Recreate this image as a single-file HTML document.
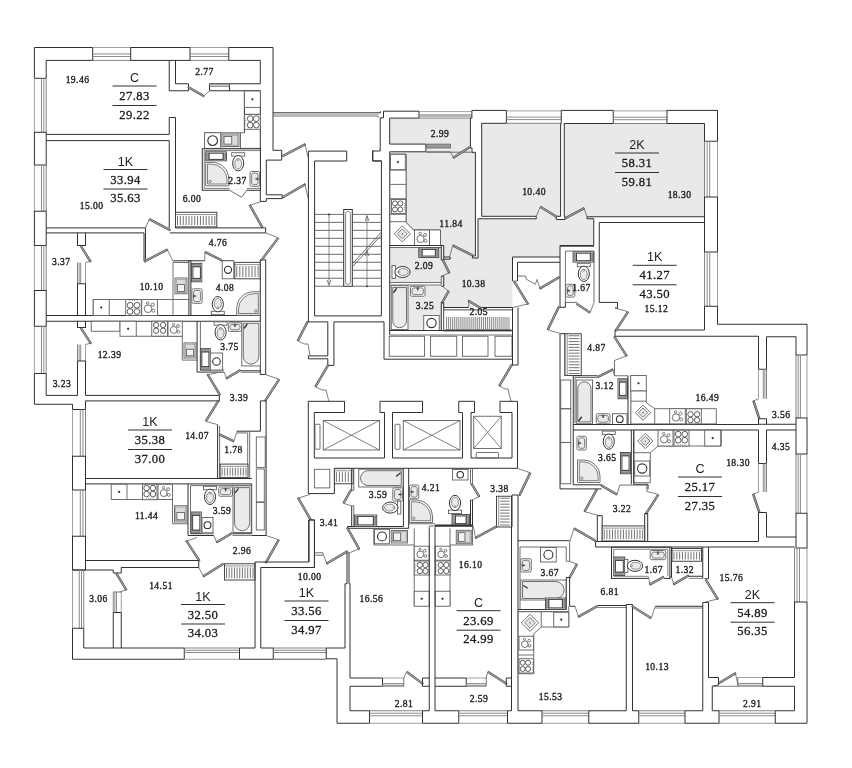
<!DOCTYPE html>
<html><head><meta charset="utf-8"><title>Floor plan</title>
<style>
html,body{margin:0;padding:0;background:#fff;}
svg{display:block;filter:grayscale(1)}
.ts{font-family:"Liberation Serif",serif;fill:#1c1c1c;stroke:#1c1c1c;stroke-width:0.34px;letter-spacing:0.42px}
.tb{font-family:"Liberation Serif",serif;fill:#1c1c1c;stroke:#1c1c1c;stroke-width:0.3px;letter-spacing:0.4px}
.tn{font-family:"Liberation Sans",sans-serif;fill:#222}
</style></head><body>
<svg width="852" height="768" viewBox="0 0 852 768" shape-rendering="geometricPrecision">
<rect x="0" y="0" width="852" height="768" fill="#fff"/>
<polygon points="389.7,118.5 470.6,118.5 470.6,152.7 426,152.7 426,144.1 389.7,144.1" fill="#e8e9eb" stroke="none"/>
<polygon points="389.7,152.2 475.4,152.2 475.4,258 441.5,258 441.5,246 389.7,246" fill="#e8e9eb" stroke="none"/>
<polygon points="481.7,123.5 560.7,123.5 560.7,218 481.7,218" fill="#e8e9eb" stroke="none"/>
<polygon points="564.2,123.5 704.5,123.5 704.5,216.8 564.2,216.8" fill="#e8e9eb" stroke="none"/>
<polygon points="478,217 593.5,217 593.5,245.5 560,245.5 560,257 512.5,257 512.5,307.5 443.5,307.5 443.5,258 478,258" fill="#e8e9eb" stroke="none"/>
<polygon points="390,247.5 441.5,247.5 441.5,282.5 390,282.5" fill="#e8e9eb" stroke="none"/>
<polygon points="390,285 441.5,285 441.5,330.5 390,330.5" fill="#e8e9eb" stroke="none"/>
<polygon points="441.5,258 450,258 450,307.5 441.5,307.5" fill="#e8e9eb" stroke="none"/>
<polygon points="34.4,47.5 92.7,47.5 92.7,60.4 46.2,60.4 46.2,78.3 34.4,78.3" fill="none" stroke="#303030" stroke-width="1"/>
<polyline points="92.7,47.5 130.7,47.5" fill="none" stroke="#888" stroke-width="0.8"/>
<polyline points="92.7,60.4 130.7,60.4" fill="none" stroke="#666" stroke-width="0.8"/>
<polyline points="92.7,56.53 130.7,56.53" fill="none" stroke="#8a8a8a" stroke-width="1"/>
<polyline points="92.7,53.95 130.7,53.95" fill="none" stroke="#8a8a8a" stroke-width="1"/>
<rect x="130.7" y="47.5" width="59.30000000000001" height="12.899999999999999" fill="none" stroke="#303030" stroke-width="1"/>
<polyline points="190,47.5 228.75,47.5" fill="none" stroke="#888" stroke-width="0.8"/>
<polyline points="190,60.4 228.75,60.4" fill="none" stroke="#666" stroke-width="0.8"/>
<polyline points="190,56.53 228.75,56.53" fill="none" stroke="#8a8a8a" stroke-width="1"/>
<polyline points="190,53.95 228.75,53.95" fill="none" stroke="#8a8a8a" stroke-width="1"/>
<polygon points="228.75,47.5 273,47.5 273,150.3 281.7,150.3 281.7,160.1 266.3,160.1 266.3,194.8 282.2,194.8 282.2,198.6 266.3,198.6 266.3,201.4 260.3,201.4 260.3,90.75 229.5,90.75 229.5,83.75 260.3,83.75 260.3,60.4 228.75,60.4" fill="none" stroke="#303030" stroke-width="1"/>
<polyline points="34.4,78.3 34.4,132.3" fill="none" stroke="#888" stroke-width="0.8"/>
<polyline points="46.2,78.3 46.2,132.3" fill="none" stroke="#666" stroke-width="0.8"/>
<polyline points="43.84,78.3 43.84,132.3" fill="none" stroke="#8a8a8a" stroke-width="1"/>
<polyline points="41.480000000000004,78.3 41.480000000000004,132.3" fill="none" stroke="#8a8a8a" stroke-width="1"/>
<rect x="34.4" y="132.3" width="11.800000000000004" height="32.69999999999999" fill="none" stroke="#303030" stroke-width="1"/>
<polyline points="34.4,165 34.4,211.25" fill="none" stroke="#888" stroke-width="0.8"/>
<polyline points="46.2,165 46.2,211.25" fill="none" stroke="#666" stroke-width="0.8"/>
<polyline points="43.84,165 43.84,211.25" fill="none" stroke="#8a8a8a" stroke-width="1"/>
<polyline points="41.480000000000004,165 41.480000000000004,211.25" fill="none" stroke="#8a8a8a" stroke-width="1"/>
<rect x="34.4" y="211.25" width="11.800000000000004" height="34.25" fill="none" stroke="#303030" stroke-width="1"/>
<polyline points="34.4,245.5 34.4,290.5" fill="none" stroke="#888" stroke-width="0.8"/>
<polyline points="46.2,245.5 46.2,290.5" fill="none" stroke="#666" stroke-width="0.8"/>
<polyline points="43.84,245.5 43.84,290.5" fill="none" stroke="#8a8a8a" stroke-width="1"/>
<polyline points="41.480000000000004,245.5 41.480000000000004,290.5" fill="none" stroke="#8a8a8a" stroke-width="1"/>
<rect x="34.4" y="290.5" width="11.800000000000004" height="35.75" fill="none" stroke="#303030" stroke-width="1"/>
<polyline points="34.4,326.25 34.4,373.5" fill="none" stroke="#888" stroke-width="0.8"/>
<polyline points="46.2,326.25 46.2,373.5" fill="none" stroke="#666" stroke-width="0.8"/>
<polyline points="43.84,326.25 43.84,373.5" fill="none" stroke="#8a8a8a" stroke-width="1"/>
<polyline points="41.480000000000004,326.25 41.480000000000004,373.5" fill="none" stroke="#8a8a8a" stroke-width="1"/>
<polyline points="46.2,373.5 34.4,373.5 34.4,404.25 72.5,404.25" fill="none" stroke="#303030" stroke-width="1"/>
<polyline points="169.25,60.4 169.25,90.75 188.5,90.75 188.5,83.75 175.5,83.75 175.5,60.4" fill="none" stroke="#303030" stroke-width="1"/>
<polygon points="188.5,86.5 204.5,95.5 203.72,96.89 187.72,87.89" fill="#b5b5b5" stroke="#3a3a3a" stroke-width="0.75"/>
<polyline points="209.5,83.75 209.5,90.75" fill="none" stroke="#303030" stroke-width="1"/>
<polyline points="209.5,83.75 229.5,83.75" fill="none" stroke="#303030" stroke-width="1"/>
<polyline points="209.5,90.75 229.5,90.75" fill="none" stroke="#303030" stroke-width="1"/>
<polyline points="209.5,84.9 229.5,84.9" fill="none" stroke="#8a8a8a" stroke-width="1"/>
<polyline points="209.5,86.4 229.5,86.4" fill="none" stroke="#8a8a8a" stroke-width="1"/>
<polyline points="204.5,95.5 209.5,90.75" fill="none" stroke="#606060" stroke-width="0.8"/>
<polyline points="46.2,134.4 169.25,134.4 169.25,117.5 175.5,117.5 175.5,228" fill="none" stroke="#303030" stroke-width="1"/>
<polyline points="46.2,140.6 169.25,140.6 169.25,228" fill="none" stroke="#303030" stroke-width="1"/>
<text x="77.5" y="83.3" font-size="9.6" text-anchor="middle" class="ts">19.46</text>
<text x="134.5" y="82" font-size="12.5" text-anchor="middle" class="tn">C</text>
<polyline points="112.5,86 156.5,86" fill="none" stroke="#303030" stroke-width="1"/>
<text x="134.5" y="100" font-size="12.7" text-anchor="middle" class="tb">27.83</text>
<polyline points="112.5,105.5 156.5,105.5" fill="none" stroke="#303030" stroke-width="1"/>
<text x="134.5" y="118.7" font-size="12.7" text-anchor="middle" class="tb">29.22</text>
<text x="204.5" y="75.3" font-size="9.6" text-anchor="middle" class="ts">2.77</text>
<text x="125.5" y="165.5" font-size="12.5" text-anchor="middle" class="tn">1K</text>
<polyline points="103.5,169.5 147.5,169.5" fill="none" stroke="#303030" stroke-width="1"/>
<text x="125.5" y="183.5" font-size="12.7" text-anchor="middle" class="tb">33.94</text>
<polyline points="103.5,189.0 147.5,189.0" fill="none" stroke="#303030" stroke-width="1"/>
<text x="125.5" y="202.2" font-size="12.7" text-anchor="middle" class="tb">35.63</text>
<text x="91.7" y="209.3" font-size="9.6" text-anchor="middle" class="ts">15.00</text>
<text x="192" y="202" font-size="9.6" text-anchor="middle" class="ts">6.00</text>
<polyline points="244.4,91 244.4,132.75" fill="none" stroke="#303030" stroke-width="1"/>
<rect x="244.4" y="91" width="15.900000000000006" height="16.400000000000006" fill="#fff" stroke="#606060" stroke-width="0.9"/>
<circle cx="252.35000000000002" cy="99.2" r="1.05" fill="#303030" stroke="#606060" stroke-width="0.2"/>
<polyline points="244.4,114.3 260.3,114.3" fill="none" stroke="#606060" stroke-width="0.9"/>
<rect x="244.4" y="114.5" width="15.900000000000006" height="14.800000000000011" fill="#fff" stroke="#606060" stroke-width="0.9"/>
<circle cx="250.175" cy="118.65" r="2.8749999999999942" fill="none" stroke="#4a4a4a" stroke-width="0.9"/>
<circle cx="250.175" cy="125.15" r="2.8749999999999942" fill="none" stroke="#4a4a4a" stroke-width="0.9"/>
<circle cx="256.325" cy="118.65" r="2.8749999999999942" fill="none" stroke="#4a4a4a" stroke-width="0.9"/>
<circle cx="256.325" cy="125.15" r="2.8749999999999942" fill="none" stroke="#4a4a4a" stroke-width="0.9"/>
<circle cx="245.6" cy="118.348" r="0.38" fill="#303030" stroke="#606060" stroke-width="0.1"/>
<circle cx="245.6" cy="120.71600000000001" r="0.38" fill="#303030" stroke="#606060" stroke-width="0.1"/>
<circle cx="245.6" cy="123.084" r="0.38" fill="#303030" stroke="#606060" stroke-width="0.1"/>
<circle cx="245.6" cy="125.45200000000001" r="0.38" fill="#303030" stroke="#606060" stroke-width="0.1"/>
<polyline points="244.4,132.75 204.6,132.75 204.6,148.4 260.3,148.4" fill="none" stroke="#606060" stroke-width="0.9"/>
<rect x="204.6" y="132.75" width="16.099999999999994" height="15.650000000000006" fill="#fff" stroke="#606060" stroke-width="0.9"/>
<circle cx="212.64999999999998" cy="140.575" r="4.8515000000000015" fill="none" stroke="#303030" stroke-width="1.1"/>
<rect x="221.8" y="134" width="17.19999999999999" height="12.5" fill="#fff" stroke="#606060" stroke-width="0.9"/>
<rect x="223.0" y="135.2" width="14.800000000000011" height="10.100000000000023" fill="#dcdcdc" stroke="#888" stroke-width="0.7"/>
<rect x="224.0" y="136.4" width="7.7760000000000105" height="7.699999999999989" fill="#f4f4f4" stroke="#555" stroke-width="0.8"/>
<polyline points="240.5,132.75 240.5,148.4" fill="none" stroke="#606060" stroke-width="0.9"/>
<rect x="202.25" y="148.8" width="58.14999999999998" height="41.44999999999999" fill="#fff" stroke="#303030" stroke-width="1"/>
<polyline points="204.2,150.6 260.4,150.6" fill="none" stroke="#606060" stroke-width="0.8"/>
<polyline points="204.2,150.6 204.2,188.4 229.6,188.4" fill="none" stroke="#606060" stroke-width="0.8"/>
<polyline points="246.8,188.4 260.4,188.4" fill="none" stroke="#606060" stroke-width="0.8"/>
<rect x="205.7" y="151.8" width="20.80000000000001" height="9.0" fill="#fff" stroke="#444" stroke-width="0.9"/>
<rect x="206.5" y="153.0" width="2.5999999999999943" height="6.600000000000023" fill="#9c9c9c" stroke="#555" stroke-width="0.5"/>
<rect x="223.1" y="153.0" width="2.5999999999999943" height="6.600000000000023" fill="#9c9c9c" stroke="#555" stroke-width="0.5"/>
<rect x="209.1" y="153.20000000000002" width="14.0" height="6.199999999999989" fill="#fff" stroke="#3c3c3c" stroke-width="1.0"/>
<path d="M205.7,162.3 L212.168,162.3 A16.632000000000016,16.632000000000016 0 0 1 228.8,178.93200000000002 L228.8,185.8 L205.7,185.8 Z" fill="#fff" stroke="#606060" stroke-width="0.9"/>
<path d="M207.5,164.10000000000002 L211.44799999999998,164.10000000000002 A15.552000000000016,15.552000000000016 0 0 1 227.0,179.65200000000004 L227.0,184.0 L207.5,184.0 Z" fill="#e9eaeb" stroke="#606060" stroke-width="0.8"/>
<circle cx="210.0" cy="181.5" r="1.2" fill="#fff" stroke="#606060" stroke-width="0.8"/>
<rect x="231.72" y="152.72" width="12.95999999999998" height="3.4000000000000057" fill="#fff" stroke="#606060" stroke-width="0.9"/>
<ellipse cx="238.2" cy="163.2" rx="5.52" ry="7.68" fill="#fff" stroke="#303030" stroke-width="1.0"/>
<ellipse cx="238.2" cy="163.79999999999998" rx="3.4223999999999997" ry="5.2224" fill="#e9eaeb" stroke="#606060" stroke-width="0.7"/>
<circle cx="238.2" cy="159.744" r="0.9" fill="#fff" stroke="#606060" stroke-width="0.6"/>
<rect x="250" y="171.5" width="9.600000000000023" height="14.800000000000011" rx="1.5" fill="#fff" stroke="#606060" stroke-width="0.9"/>
<rect x="251.6" y="173.1" width="6.400000000000006" height="11.600000000000023" rx="2" fill="#e9eaeb" stroke="#606060" stroke-width="0.8"/>
<polyline points="258.6,178.9 255.40000000000003,178.9" fill="none" stroke="#303030" stroke-width="1.2"/>
<polyline points="257.40000000000003,177.4 257.40000000000003,180.4" fill="none" stroke="#606060" stroke-width="0.9"/>
<polyline points="229.6,190.25 246.8,190.25" fill="none" stroke="#fff" stroke-width="2"/>
<polyline points="229.6,190.25 241.5,197.2 246.8,190.25" fill="none" stroke="#606060" stroke-width="0.9"/>
<text x="237.5" y="184.3" font-size="9.6" text-anchor="middle" class="ts">2.37</text>
<polyline points="175.5,227.9 265.7,227.9 265.7,232.9 169.9,232.9" fill="none" stroke="#303030" stroke-width="1"/>
<rect x="175.5" y="212.3" width="41.30000000000001" height="14.599999999999994" fill="#fff" stroke="#444" stroke-width="1"/>
<polyline points="175.5,214.5 216.8,214.5" fill="none" stroke="#666" stroke-width="0.7"/>
<polyline points="177.50,215.9 177.50,225.1" fill="none" stroke="#505050" stroke-width="0.8"/>
<polyline points="180.37,215.9 180.37,225.1" fill="none" stroke="#505050" stroke-width="0.8"/>
<polyline points="183.24,215.9 183.24,225.1" fill="none" stroke="#505050" stroke-width="0.8"/>
<polyline points="186.11,215.9 186.11,225.1" fill="none" stroke="#505050" stroke-width="0.8"/>
<polyline points="188.98,215.9 188.98,225.1" fill="none" stroke="#505050" stroke-width="0.8"/>
<polyline points="191.85,215.9 191.85,225.1" fill="none" stroke="#505050" stroke-width="0.8"/>
<polyline points="194.72,215.9 194.72,225.1" fill="none" stroke="#505050" stroke-width="0.8"/>
<polyline points="197.58,215.9 197.58,225.1" fill="none" stroke="#505050" stroke-width="0.8"/>
<polyline points="200.45,215.9 200.45,225.1" fill="none" stroke="#505050" stroke-width="0.8"/>
<polyline points="203.32,215.9 203.32,225.1" fill="none" stroke="#505050" stroke-width="0.8"/>
<polyline points="206.19,215.9 206.19,225.1" fill="none" stroke="#505050" stroke-width="0.8"/>
<polyline points="209.06,215.9 209.06,225.1" fill="none" stroke="#505050" stroke-width="0.8"/>
<polyline points="211.93,215.9 211.93,225.1" fill="none" stroke="#505050" stroke-width="0.8"/>
<polyline points="214.80,215.9 214.80,225.1" fill="none" stroke="#505050" stroke-width="0.8"/>
<polygon points="261.7,227.9 249.1,205.6 250.49,204.81 263.09,227.11" fill="#b5b5b5" stroke="#3a3a3a" stroke-width="0.75"/>
<polyline points="249.1,205.6 261.7,201.4" fill="none" stroke="#606060" stroke-width="0.8"/>
<polyline points="46.2,227.9 145.5,227.9 145.5,232.9" fill="none" stroke="#303030" stroke-width="1"/>
<polyline points="46.2,232.9 77.5,232.9" fill="none" stroke="#303030" stroke-width="1"/>
<polyline points="85.5,232.9 144,232.9 144,260.8" fill="none" stroke="#303030" stroke-width="1"/>
<polyline points="145.5,232.9 145.5,259.5" fill="none" stroke="#303030" stroke-width="1"/>
<polygon points="169.9,230.9 149,219.9 149.75,218.48 170.65,229.48" fill="#b5b5b5" stroke="#3a3a3a" stroke-width="0.75"/>
<polyline points="149,219.9 145.5,227.9" fill="none" stroke="#606060" stroke-width="0.8"/>
<polygon points="144,260.8 166.9,248.9 167.64,250.32 144.74,262.22" fill="#b5b5b5" stroke="#3a3a3a" stroke-width="0.75"/>
<polyline points="166.9,248.9 172.9,260.8" fill="none" stroke="#606060" stroke-width="0.8"/>
<polyline points="172.9,260.8 204.8,260.8" fill="none" stroke="#303030" stroke-width="1"/>
<polyline points="220.8,260.8 233.75,260.8" fill="none" stroke="#303030" stroke-width="1"/>
<polygon points="220.8,260.8 204.8,252.8 205.52,251.37 221.52,259.37" fill="#b5b5b5" stroke="#3a3a3a" stroke-width="0.75"/>
<polyline points="204.8,252.8 204.8,260.8" fill="none" stroke="#606060" stroke-width="0.8"/>
<rect x="188.9" y="260.8" width="2.0" height="54.69999999999999" fill="#fff" stroke="#303030" stroke-width="1"/>
<polyline points="260.3,259.8 265.7,259.8 265.7,374.5 260.3,374.5 260.3,259.8" fill="none" stroke="#303030" stroke-width="1"/>
<polygon points="260.7,259.8 277.6,237.5 278.88,238.47 261.98,260.77" fill="#b5b5b5" stroke="#3a3a3a" stroke-width="0.75"/>
<polyline points="277.6,237.5 265.7,232.9" fill="none" stroke="#606060" stroke-width="0.8"/>
<rect x="77.5" y="232.9" width="8.0" height="12.599999999999994" fill="none" stroke="#303030" stroke-width="1"/>
<polygon points="81.5,245.5 91.25,261.25 89.89,262.09 80.14,246.34" fill="#b5b5b5" stroke="#3a3a3a" stroke-width="0.75"/>
<polyline points="91.25,261.25 85.5,262.5" fill="none" stroke="#606060" stroke-width="0.8"/>
<polyline points="85.5,262.5 85.5,283.75" fill="none" stroke="#888" stroke-width="0.8"/>
<polyline points="77.5,262.5 77.5,283.75" fill="none" stroke="#666" stroke-width="0.8"/>
<polyline points="79.1,262.5 79.1,283.75" fill="none" stroke="#8a8a8a" stroke-width="1"/>
<polyline points="80.7,262.5 80.7,283.75" fill="none" stroke="#8a8a8a" stroke-width="1"/>
<rect x="77.5" y="283.75" width="8.0" height="31.75" fill="none" stroke="#303030" stroke-width="1"/>
<polyline points="46.2,315.5 260.3,315.5" fill="none" stroke="#303030" stroke-width="1"/>
<polyline points="46.2,321.25 77.5,321.25" fill="none" stroke="#303030" stroke-width="1"/>
<polyline points="85.5,321.25 260.3,321.25" fill="none" stroke="#303030" stroke-width="1"/>
<polyline points="93.25,299.5 173,299.5 173,262.5 189,262.5" fill="none" stroke="#606060" stroke-width="0.9"/>
<polyline points="93.25,299.5 93.25,315.5" fill="none" stroke="#606060" stroke-width="0.9"/>
<rect x="93.25" y="299.5" width="16.0" height="16.0" fill="#fff" stroke="#606060" stroke-width="0.9"/>
<circle cx="101.25" cy="307.5" r="1.05" fill="#303030" stroke="#606060" stroke-width="0.2"/>
<rect x="125.75" y="299.5" width="15.5" height="16.0" fill="#fff" stroke="#606060" stroke-width="0.9"/>
<circle cx="130.075" cy="305.29999999999995" r="2.9" fill="none" stroke="#4a4a4a" stroke-width="0.9"/>
<circle cx="130.075" cy="311.5" r="2.9" fill="none" stroke="#4a4a4a" stroke-width="0.9"/>
<circle cx="136.925" cy="305.29999999999995" r="2.9" fill="none" stroke="#4a4a4a" stroke-width="0.9"/>
<circle cx="136.925" cy="311.5" r="2.9" fill="none" stroke="#4a4a4a" stroke-width="0.9"/>
<circle cx="129.78" cy="300.7" r="0.38" fill="#303030" stroke="#606060" stroke-width="0.1"/>
<circle cx="132.26" cy="300.7" r="0.38" fill="#303030" stroke="#606060" stroke-width="0.1"/>
<circle cx="134.74" cy="300.7" r="0.38" fill="#303030" stroke="#606060" stroke-width="0.1"/>
<circle cx="137.22" cy="300.7" r="0.38" fill="#303030" stroke="#606060" stroke-width="0.1"/>
<rect x="141.75" y="299.5" width="15.75" height="16.0" fill="#fff" stroke="#606060" stroke-width="0.9"/>
<circle cx="148.05" cy="308.78" r="3.78" fill="none" stroke="#606060" stroke-width="0.9"/>
<circle cx="152.775" cy="304.62" r="1.5750000000000002" fill="none" stroke="#606060" stroke-width="0.8"/>
<circle cx="153.405" cy="310.7" r="1.5750000000000002" fill="none" stroke="#606060" stroke-width="0.8"/>
<circle cx="147.735" cy="303.02" r="1.26" fill="none" stroke="#606060" stroke-width="0.8"/>
<polyline points="173,299.5 173,315.5" fill="none" stroke="#606060" stroke-width="0.9"/>
<polyline points="173,299.5 189,299.5" fill="none" stroke="#606060" stroke-width="0.9"/>
<rect x="175" y="278" width="12" height="15.75" fill="#fff" stroke="#606060" stroke-width="0.9"/>
<rect x="176.2" y="279.2" width="9.600000000000023" height="13.350000000000023" fill="#dcdcdc" stroke="#888" stroke-width="0.7"/>
<rect x="177.4" y="284.615" width="7.199999999999989" height="6.935000000000002" fill="#f4f4f4" stroke="#555" stroke-width="0.8"/>
<rect x="191.5" y="263.4" width="10.300000000000011" height="18.400000000000034" fill="#fff" stroke="#444" stroke-width="0.9"/>
<rect x="192.7" y="264.2" width="7.900000000000034" height="2.599999999999966" fill="#9c9c9c" stroke="#555" stroke-width="0.5"/>
<rect x="192.7" y="278.40000000000003" width="7.900000000000034" height="2.599999999999966" fill="#9c9c9c" stroke="#555" stroke-width="0.5"/>
<rect x="192.9" y="266.79999999999995" width="7.5" height="11.60000000000008" fill="#fff" stroke="#3c3c3c" stroke-width="1.0"/>
<rect x="191.9" y="288.8" width="10.299999999999983" height="14.5" rx="1.5" fill="#fff" stroke="#606060" stroke-width="0.9"/>
<rect x="193.5" y="290.40000000000003" width="7.099999999999994" height="11.299999999999955" rx="2" fill="#e9eaeb" stroke="#606060" stroke-width="0.8"/>
<polyline points="192.9,296.05 196.1,296.05" fill="none" stroke="#303030" stroke-width="1.2"/>
<polyline points="194.1,294.55 194.1,297.55" fill="none" stroke="#606060" stroke-width="0.9"/>
<rect x="211.32000000000002" y="311.28" width="12.95999999999998" height="3.400000000000034" fill="#fff" stroke="#606060" stroke-width="0.9"/>
<ellipse cx="217.8" cy="304.2" rx="5.52" ry="7.68" fill="#fff" stroke="#303030" stroke-width="1.0"/>
<ellipse cx="217.8" cy="303.59999999999997" rx="3.4223999999999997" ry="5.2224" fill="#e9eaeb" stroke="#606060" stroke-width="0.7"/>
<circle cx="217.8" cy="307.656" r="0.9" fill="#fff" stroke="#606060" stroke-width="0.6"/>
<rect x="222.2" y="260.8" width="11.550000000000011" height="18.0" fill="#fff" stroke="#606060" stroke-width="0.9"/>
<circle cx="227.975" cy="269.8" r="3.5805000000000033" fill="none" stroke="#303030" stroke-width="1.1"/>
<rect x="234.75" y="262.4" width="25.350000000000023" height="16.400000000000034" fill="#fff" stroke="#444" stroke-width="1"/>
<polyline points="234.75,264.59999999999997 260.1,264.59999999999997" fill="none" stroke="#666" stroke-width="0.7"/>
<polyline points="236.75,266.0 236.75,277.0" fill="none" stroke="#505050" stroke-width="0.8"/>
<polyline points="239.80,266.0 239.80,277.0" fill="none" stroke="#505050" stroke-width="0.8"/>
<polyline points="242.85,266.0 242.85,277.0" fill="none" stroke="#505050" stroke-width="0.8"/>
<polyline points="245.90,266.0 245.90,277.0" fill="none" stroke="#505050" stroke-width="0.8"/>
<polyline points="248.95,266.0 248.95,277.0" fill="none" stroke="#505050" stroke-width="0.8"/>
<polyline points="252.00,266.0 252.00,277.0" fill="none" stroke="#505050" stroke-width="0.8"/>
<polyline points="255.05,266.0 255.05,277.0" fill="none" stroke="#505050" stroke-width="0.8"/>
<polyline points="258.10,266.0 258.10,277.0" fill="none" stroke="#505050" stroke-width="0.8"/>
<path d="M260.1,291.75 L253.562,291.75 A16.812000000000015,16.812000000000015 0 0 0 236.75,308.562 L236.75,315.3 L260.1,315.3 Z" fill="#fff" stroke="#606060" stroke-width="0.9"/>
<path d="M258.3,293.55 L254.28200000000004,293.55 A15.732000000000015,15.732000000000015 0 0 0 238.55,309.28200000000004 L238.55,313.5 L258.3,313.5 Z" fill="#e9eaeb" stroke="#606060" stroke-width="0.8"/>
<circle cx="255.8" cy="311.0" r="1.2" fill="#fff" stroke="#606060" stroke-width="0.8"/>
<text x="61.25" y="264.5" font-size="9.6" text-anchor="middle" class="ts">3.37</text>
<text x="151.5" y="290" font-size="9.6" text-anchor="middle" class="ts">10.10</text>
<text x="218" y="245.5" font-size="9.6" text-anchor="middle" class="ts">4.76</text>
<text x="225" y="290.5" font-size="9.6" text-anchor="middle" class="ts">4.08</text>
<rect x="77.5" y="321.25" width="8.0" height="6.25" fill="none" stroke="#303030" stroke-width="1"/>
<polygon points="81.5,327.5 91.5,343 90.16,343.87 80.16,328.37" fill="#b5b5b5" stroke="#3a3a3a" stroke-width="0.75"/>
<polyline points="91.5,343 85.5,344.5" fill="none" stroke="#606060" stroke-width="0.8"/>
<polyline points="85.5,344.5 85.5,361" fill="none" stroke="#888" stroke-width="0.8"/>
<polyline points="77.5,344.5 77.5,361" fill="none" stroke="#666" stroke-width="0.8"/>
<polyline points="79.1,344.5 79.1,361" fill="none" stroke="#8a8a8a" stroke-width="1"/>
<polyline points="80.7,344.5 80.7,361" fill="none" stroke="#8a8a8a" stroke-width="1"/>
<polyline points="77.5,361 85.5,361 85.5,395.4" fill="none" stroke="#303030" stroke-width="1"/>
<polyline points="77.5,361 77.5,395.4 46.2,395.4 46.2,373.5" fill="none" stroke="#303030" stroke-width="1"/>
<polyline points="85.5,395.4 219.3,395.4 219.3,400.9 85.5,400.9" fill="none" stroke="#303030" stroke-width="1"/>
<polyline points="72.5,404.25 72.5,409.5" fill="none" stroke="#303030" stroke-width="1"/>
<polyline points="85.5,400.9 85.5,409.5" fill="none" stroke="#303030" stroke-width="1"/>
<polyline points="72.5,409.5 85.5,409.5" fill="none" stroke="#303030" stroke-width="1"/>
<polyline points="72.5,409.5 72.5,456.25" fill="none" stroke="#888" stroke-width="0.8"/>
<polyline points="85.5,409.5 85.5,456.25" fill="none" stroke="#666" stroke-width="0.8"/>
<polyline points="82.9,409.5 82.9,456.25" fill="none" stroke="#8a8a8a" stroke-width="1"/>
<polyline points="80.3,409.5 80.3,456.25" fill="none" stroke="#8a8a8a" stroke-width="1"/>
<rect x="72.5" y="456.25" width="13.0" height="33.75" fill="none" stroke="#303030" stroke-width="1"/>
<polyline points="72.5,490 72.5,536.25" fill="none" stroke="#888" stroke-width="0.8"/>
<polyline points="85.5,490 85.5,536.25" fill="none" stroke="#666" stroke-width="0.8"/>
<polyline points="82.9,490 82.9,536.25" fill="none" stroke="#8a8a8a" stroke-width="1"/>
<polyline points="80.3,490 80.3,536.25" fill="none" stroke="#8a8a8a" stroke-width="1"/>
<rect x="72.5" y="536.25" width="13.0" height="33.75" fill="none" stroke="#303030" stroke-width="1"/>
<rect x="91.25" y="321.25" width="28.75" height="10.0" fill="#fff" stroke="#606060" stroke-width="0.9"/>
<rect x="120" y="321.25" width="16.25" height="15.0" fill="#fff" stroke="#606060" stroke-width="0.9"/>
<circle cx="128.125" cy="328.75" r="1.05" fill="#303030" stroke="#606060" stroke-width="0.2"/>
<polyline points="136.25,336.25 182.3,336.25" fill="none" stroke="#606060" stroke-width="0.9"/>
<rect x="151.75" y="321.25" width="15.75" height="15.0" fill="#fff" stroke="#606060" stroke-width="0.9"/>
<circle cx="156.1375" cy="325.0" r="2.65" fill="none" stroke="#4a4a4a" stroke-width="0.9"/>
<circle cx="156.1375" cy="330.70000000000005" r="2.65" fill="none" stroke="#4a4a4a" stroke-width="0.9"/>
<circle cx="163.1125" cy="325.0" r="2.65" fill="none" stroke="#4a4a4a" stroke-width="0.9"/>
<circle cx="163.1125" cy="330.70000000000005" r="2.65" fill="none" stroke="#4a4a4a" stroke-width="0.9"/>
<circle cx="155.845" cy="335.05" r="0.38" fill="#303030" stroke="#606060" stroke-width="0.1"/>
<circle cx="158.365" cy="335.05" r="0.38" fill="#303030" stroke="#606060" stroke-width="0.1"/>
<circle cx="160.885" cy="335.05" r="0.38" fill="#303030" stroke="#606060" stroke-width="0.1"/>
<circle cx="163.405" cy="335.05" r="0.38" fill="#303030" stroke="#606060" stroke-width="0.1"/>
<rect x="168" y="321.25" width="14.300000000000011" height="15.0" fill="#fff" stroke="#606060" stroke-width="0.9"/>
<circle cx="173.72" cy="329.95" r="3.4320000000000026" fill="none" stroke="#606060" stroke-width="0.9"/>
<circle cx="178.01000000000002" cy="326.05" r="1.4300000000000013" fill="none" stroke="#606060" stroke-width="0.8"/>
<circle cx="178.58200000000002" cy="331.75" r="1.4300000000000013" fill="none" stroke="#606060" stroke-width="0.8"/>
<circle cx="173.434" cy="324.55" r="1.144000000000001" fill="none" stroke="#606060" stroke-width="0.8"/>
<polyline points="182.3,336.25 182.3,360.1 197.1,360.1" fill="none" stroke="#606060" stroke-width="0.9"/>
<rect x="184" y="342.9" width="12" height="15.100000000000023" fill="#fff" stroke="#606060" stroke-width="0.9"/>
<rect x="185.2" y="344.09999999999997" width="9.600000000000023" height="12.700000000000045" fill="#dcdcdc" stroke="#888" stroke-width="0.7"/>
<rect x="186.4" y="349.24199999999996" width="7.199999999999989" height="6.55800000000005" fill="#f4f4f4" stroke="#555" stroke-width="0.8"/>
<polyline points="197.1,321.2 197.1,372.1 224.2,372.1" fill="none" stroke="#303030" stroke-width="1"/>
<polyline points="200.4,321.2 200.4,370 224.2,370" fill="none" stroke="#606060" stroke-width="0.9"/>
<polyline points="240.7,370.8 260.4,370.8" fill="none" stroke="#303030" stroke-width="1"/>
<polyline points="240.7,372.3 260.4,372.3" fill="none" stroke="#606060" stroke-width="0.8"/>
<polygon points="240.7,370.8 226.7,379.2 225.88,377.83 239.88,369.43" fill="#b5b5b5" stroke="#3a3a3a" stroke-width="0.75"/>
<polyline points="226.7,379.2 224.2,372.1" fill="none" stroke="#606060" stroke-width="0.8"/>
<rect x="214.12" y="321.82" width="12.95999999999998" height="3.400000000000034" fill="#fff" stroke="#606060" stroke-width="0.9"/>
<ellipse cx="220.6" cy="332.3" rx="5.52" ry="7.68" fill="#fff" stroke="#303030" stroke-width="1.0"/>
<ellipse cx="220.6" cy="332.90000000000003" rx="3.4223999999999997" ry="5.2224" fill="#e9eaeb" stroke="#606060" stroke-width="0.7"/>
<circle cx="220.6" cy="328.844" r="0.9" fill="#fff" stroke="#606060" stroke-width="0.6"/>
<rect x="228.3" y="322.8" width="13.299999999999983" height="8.599999999999966" rx="1.5" fill="#fff" stroke="#606060" stroke-width="0.9"/>
<rect x="229.9" y="324.40000000000003" width="10.099999999999994" height="5.39999999999992" rx="2" fill="#e9eaeb" stroke="#606060" stroke-width="0.8"/>
<polyline points="234.95,323.8 234.95,327.0" fill="none" stroke="#303030" stroke-width="1.2"/>
<polyline points="233.45,325.0 236.45,325.0" fill="none" stroke="#606060" stroke-width="0.9"/>
<rect x="241.8" y="321.5" width="18.599999999999966" height="44.39999999999998" fill="#fff" stroke="#606060" stroke-width="0.9"/>
<path d="M243.3,323.3 L258.9,323.3 L258.9,356.29999999999995 A7.799999999999983,7.799999999999983 0 0 1 243.3,356.29999999999995 Z" fill="#e9eaeb" stroke="#606060" stroke-width="0.9"/>
<polyline points="244.0,328.5 247.3,324.0" fill="none" stroke="#303030" stroke-width="1.3"/>
<rect x="200.4" y="348.6" width="9.900000000000006" height="21.399999999999977" fill="#fff" stroke="#444" stroke-width="0.9"/>
<rect x="201.6" y="349.40000000000003" width="7.500000000000028" height="2.599999999999966" fill="#9c9c9c" stroke="#555" stroke-width="0.5"/>
<rect x="201.6" y="366.6" width="7.500000000000028" height="2.599999999999966" fill="#9c9c9c" stroke="#555" stroke-width="0.5"/>
<rect x="201.8" y="352.0" width="7.099999999999994" height="14.600000000000023" fill="#fff" stroke="#3c3c3c" stroke-width="1.0"/>
<rect x="210.3" y="353" width="12.299999999999983" height="17" fill="#fff" stroke="#606060" stroke-width="0.9"/>
<circle cx="216.45" cy="361.5" r="3.812999999999995" fill="none" stroke="#303030" stroke-width="1.1"/>
<polygon points="219.3,395.4 207,374.9 208.37,374.08 220.67,394.58" fill="#b5b5b5" stroke="#3a3a3a" stroke-width="0.75"/>
<polyline points="207,374.9 218.5,372.4" fill="none" stroke="#606060" stroke-width="0.8"/>
<polygon points="219.3,400.9 206.5,421.6 205.14,420.76 217.94,400.06" fill="#b5b5b5" stroke="#3a3a3a" stroke-width="0.75"/>
<polyline points="206.5,421.6 217.6,424.6" fill="none" stroke="#606060" stroke-width="0.8"/>
<polygon points="264.5,400.4 278.4,379 279.74,379.87 265.84,401.27" fill="#b5b5b5" stroke="#3a3a3a" stroke-width="0.75"/>
<polyline points="278.4,379 265.3,374.5" fill="none" stroke="#606060" stroke-width="0.8"/>
<polyline points="260.4,400.9 266.1,400.9 266.1,535.5" fill="none" stroke="#303030" stroke-width="1"/>
<polyline points="260.4,400.9 260.4,431.2 236.5,431.2" fill="none" stroke="#303030" stroke-width="1"/>
<polyline points="217.6,424.6 217.6,478.5" fill="none" stroke="#303030" stroke-width="1"/>
<polyline points="219.6,426 219.6,478.5" fill="none" stroke="#606060" stroke-width="0.9"/>
<polygon points="219.6,433.7 234.1,440.5 233.42,441.95 218.92,435.15" fill="#b5b5b5" stroke="#3a3a3a" stroke-width="0.75"/>
<polyline points="234.1,440.5 236.5,432.9" fill="none" stroke="#606060" stroke-width="0.8"/>
<polyline points="236.5,432.9 247.7,432.9 247.7,478.5" fill="none" stroke="#606060" stroke-width="0.9"/>
<polyline points="249.7,431.2 249.7,478.5" fill="none" stroke="#606060" stroke-width="0.9"/>
<rect x="220.1" y="464.1" width="27.900000000000006" height="13.299999999999955" fill="#fff" stroke="#444" stroke-width="1"/>
<polyline points="220.1,466.3 248,466.3" fill="none" stroke="#666" stroke-width="0.7"/>
<polyline points="222.10,467.70000000000005 222.10,475.59999999999997" fill="none" stroke="#505050" stroke-width="0.8"/>
<polyline points="224.76,467.70000000000005 224.76,475.59999999999997" fill="none" stroke="#505050" stroke-width="0.8"/>
<polyline points="227.41,467.70000000000005 227.41,475.59999999999997" fill="none" stroke="#505050" stroke-width="0.8"/>
<polyline points="230.07,467.70000000000005 230.07,475.59999999999997" fill="none" stroke="#505050" stroke-width="0.8"/>
<polyline points="232.72,467.70000000000005 232.72,475.59999999999997" fill="none" stroke="#505050" stroke-width="0.8"/>
<polyline points="235.38,467.70000000000005 235.38,475.59999999999997" fill="none" stroke="#505050" stroke-width="0.8"/>
<polyline points="238.03,467.70000000000005 238.03,475.59999999999997" fill="none" stroke="#505050" stroke-width="0.8"/>
<polyline points="240.69,467.70000000000005 240.69,475.59999999999997" fill="none" stroke="#505050" stroke-width="0.8"/>
<polyline points="243.34,467.70000000000005 243.34,475.59999999999997" fill="none" stroke="#505050" stroke-width="0.8"/>
<polyline points="246.00,467.70000000000005 246.00,475.59999999999997" fill="none" stroke="#505050" stroke-width="0.8"/>
<rect x="256.3" y="437" width="8.899999999999977" height="30.399999999999977" fill="none" stroke="#606060" stroke-width="0.9"/>
<rect x="256.3" y="469" width="8.0" height="32.89999999999998" fill="none" stroke="#606060" stroke-width="0.9"/>
<rect x="256.3" y="502.5" width="8.0" height="27.5" fill="none" stroke="#606060" stroke-width="0.9"/>
<polyline points="85.5,478.5 251.7,478.5" fill="none" stroke="#303030" stroke-width="1"/>
<polyline points="85.5,483.9 251.7,483.9 251.7,533.75" fill="none" stroke="#303030" stroke-width="1"/>
<text x="61.9" y="387" font-size="9.6" text-anchor="middle" class="ts">3.23</text>
<text x="109.5" y="357.5" font-size="9.6" text-anchor="middle" class="ts">12.39</text>
<text x="229.5" y="350" font-size="9.6" text-anchor="middle" class="ts">3.75</text>
<text x="239" y="401" font-size="9.6" text-anchor="middle" class="ts">3.39</text>
<text x="197" y="439" font-size="9.6" text-anchor="middle" class="ts">14.07</text>
<text x="233.5" y="453" font-size="9.6" text-anchor="middle" class="ts">1.78</text>
<text x="150" y="426" font-size="12.5" text-anchor="middle" class="tn">1K</text>
<polyline points="128,430 172,430" fill="none" stroke="#303030" stroke-width="1"/>
<text x="150" y="444" font-size="12.7" text-anchor="middle" class="tb">35.38</text>
<polyline points="128,449.5 172,449.5" fill="none" stroke="#303030" stroke-width="1"/>
<text x="150" y="462.7" font-size="12.7" text-anchor="middle" class="tb">37.00</text>
<rect x="111.25" y="484.25" width="15.75" height="15.25" fill="#fff" stroke="#606060" stroke-width="0.9"/>
<circle cx="119.125" cy="491.875" r="1.05" fill="#303030" stroke="#606060" stroke-width="0.2"/>
<polyline points="127,499.5 172.5,499.5" fill="none" stroke="#606060" stroke-width="0.9"/>
<rect x="142.5" y="484.25" width="14.5" height="15.5" fill="#fff" stroke="#606060" stroke-width="0.9"/>
<circle cx="146.575" cy="488.125" r="2.775" fill="none" stroke="#4a4a4a" stroke-width="0.9"/>
<circle cx="146.575" cy="494.07500000000005" r="2.775" fill="none" stroke="#4a4a4a" stroke-width="0.9"/>
<circle cx="152.925" cy="488.125" r="2.775" fill="none" stroke="#4a4a4a" stroke-width="0.9"/>
<circle cx="152.925" cy="494.07500000000005" r="2.775" fill="none" stroke="#4a4a4a" stroke-width="0.9"/>
<circle cx="146.27" cy="498.55" r="0.38" fill="#303030" stroke="#606060" stroke-width="0.1"/>
<circle cx="148.59" cy="498.55" r="0.38" fill="#303030" stroke="#606060" stroke-width="0.1"/>
<circle cx="150.91" cy="498.55" r="0.38" fill="#303030" stroke="#606060" stroke-width="0.1"/>
<circle cx="153.23" cy="498.55" r="0.38" fill="#303030" stroke="#606060" stroke-width="0.1"/>
<rect x="158" y="484.25" width="14.5" height="15.25" fill="#fff" stroke="#606060" stroke-width="0.9"/>
<circle cx="163.8" cy="493.095" r="3.48" fill="none" stroke="#606060" stroke-width="0.9"/>
<circle cx="168.15" cy="489.13" r="1.4500000000000002" fill="none" stroke="#606060" stroke-width="0.8"/>
<circle cx="168.73" cy="494.925" r="1.4500000000000002" fill="none" stroke="#606060" stroke-width="0.8"/>
<circle cx="163.51" cy="487.605" r="1.16" fill="none" stroke="#606060" stroke-width="0.8"/>
<polyline points="172.5,499.5 172.5,523.75 188,523.75" fill="none" stroke="#606060" stroke-width="0.9"/>
<rect x="174.5" y="505.75" width="12.5" height="16.25" fill="#fff" stroke="#606060" stroke-width="0.9"/>
<rect x="175.7" y="506.95" width="10.100000000000023" height="13.849999999999966" fill="#dcdcdc" stroke="#888" stroke-width="0.7"/>
<rect x="176.9" y="512.575" width="7.699999999999989" height="7.224999999999909" fill="#f4f4f4" stroke="#555" stroke-width="0.8"/>
<polyline points="188,483.9 188,535.5 213.75,535.5" fill="none" stroke="#303030" stroke-width="1"/>
<polyline points="190.5,485.6 190.5,533.75 213.75,533.75" fill="none" stroke="#606060" stroke-width="0.9"/>
<polyline points="190.5,485.6 251.7,485.6" fill="none" stroke="#606060" stroke-width="0.9"/>
<polyline points="232.5,533.75 251.7,533.75" fill="none" stroke="#303030" stroke-width="1"/>
<polyline points="232.5,535.5 252,535.5" fill="none" stroke="#606060" stroke-width="0.8"/>
<polygon points="232.5,533.75 217,543 216.18,541.63 231.68,532.38" fill="#b5b5b5" stroke="#3a3a3a" stroke-width="0.75"/>
<polyline points="217,543 213.75,535.5" fill="none" stroke="#606060" stroke-width="0.8"/>
<rect x="203.52" y="486.32" width="12.95999999999998" height="3.400000000000034" fill="#fff" stroke="#606060" stroke-width="0.9"/>
<ellipse cx="210" cy="496.8" rx="5.52" ry="7.68" fill="#fff" stroke="#303030" stroke-width="1.0"/>
<ellipse cx="210" cy="497.40000000000003" rx="3.4223999999999997" ry="5.2224" fill="#e9eaeb" stroke="#606060" stroke-width="0.7"/>
<circle cx="210" cy="493.344" r="0.9" fill="#fff" stroke="#606060" stroke-width="0.6"/>
<rect x="218.75" y="487" width="13.75" height="9.25" rx="1.5" fill="#fff" stroke="#606060" stroke-width="0.9"/>
<rect x="220.35" y="488.6" width="10.550000000000011" height="6.0499999999999545" rx="2" fill="#e9eaeb" stroke="#606060" stroke-width="0.8"/>
<polyline points="225.625,488 225.625,491.2" fill="none" stroke="#303030" stroke-width="1.2"/>
<polyline points="224.125,489.2 227.125,489.2" fill="none" stroke="#606060" stroke-width="0.9"/>
<rect x="233" y="485.8" width="18.25" height="46.69999999999999" fill="#fff" stroke="#606060" stroke-width="0.9"/>
<path d="M234.5,487.6 L249.75,487.6 L249.75,523.075 A7.625,7.625 0 0 1 234.5,523.075 Z" fill="#e9eaeb" stroke="#606060" stroke-width="0.9"/>
<polyline points="235.2,492.8 238.5,488.3" fill="none" stroke="#303030" stroke-width="1.3"/>
<rect x="191.25" y="512" width="10.0" height="21.5" fill="#fff" stroke="#444" stroke-width="0.9"/>
<rect x="192.45" y="512.8" width="7.600000000000023" height="2.6000000000000227" fill="#9c9c9c" stroke="#555" stroke-width="0.5"/>
<rect x="192.45" y="530.1" width="7.600000000000023" height="2.6000000000000227" fill="#9c9c9c" stroke="#555" stroke-width="0.5"/>
<rect x="192.65" y="515.4" width="7.199999999999989" height="14.700000000000045" fill="#fff" stroke="#3c3c3c" stroke-width="1.0"/>
<rect x="202" y="517.5" width="11" height="15.299999999999955" fill="#fff" stroke="#606060" stroke-width="0.9"/>
<circle cx="207.5" cy="525.15" r="3.41" fill="none" stroke="#303030" stroke-width="1.1"/>
<polygon points="198.75,561.25 185.75,541.25 187.09,540.38 200.09,560.38" fill="#b5b5b5" stroke="#3a3a3a" stroke-width="0.75"/>
<polyline points="185.75,541.25 197,537.5" fill="none" stroke="#606060" stroke-width="0.8"/>
<polygon points="223.75,564.5 203.75,577 202.90,575.64 222.90,563.14" fill="#b5b5b5" stroke="#3a3a3a" stroke-width="0.75"/>
<polyline points="203.75,577 198.75,567.5" fill="none" stroke="#606060" stroke-width="0.8"/>
<rect x="224.5" y="563.75" width="30.5" height="16.25" fill="#fff" stroke="#444" stroke-width="1"/>
<polyline points="224.5,565.95 255,565.95" fill="none" stroke="#666" stroke-width="0.7"/>
<polyline points="226.50,567.35 226.50,578.2" fill="none" stroke="#505050" stroke-width="0.8"/>
<polyline points="229.15,567.35 229.15,578.2" fill="none" stroke="#505050" stroke-width="0.8"/>
<polyline points="231.80,567.35 231.80,578.2" fill="none" stroke="#505050" stroke-width="0.8"/>
<polyline points="234.45,567.35 234.45,578.2" fill="none" stroke="#505050" stroke-width="0.8"/>
<polyline points="237.10,567.35 237.10,578.2" fill="none" stroke="#505050" stroke-width="0.8"/>
<polyline points="239.75,567.35 239.75,578.2" fill="none" stroke="#505050" stroke-width="0.8"/>
<polyline points="242.40,567.35 242.40,578.2" fill="none" stroke="#505050" stroke-width="0.8"/>
<polyline points="245.05,567.35 245.05,578.2" fill="none" stroke="#505050" stroke-width="0.8"/>
<polyline points="247.70,567.35 247.70,578.2" fill="none" stroke="#505050" stroke-width="0.8"/>
<polyline points="250.35,567.35 250.35,578.2" fill="none" stroke="#505050" stroke-width="0.8"/>
<polyline points="253.00,567.35 253.00,578.2" fill="none" stroke="#505050" stroke-width="0.8"/>
<polygon points="265,562.5 278,539.5 279.39,540.29 266.39,563.29" fill="#b5b5b5" stroke="#3a3a3a" stroke-width="0.75"/>
<polyline points="278,539.5 266.1,535.5" fill="none" stroke="#606060" stroke-width="0.8"/>
<polyline points="85.5,560.5 198.75,560.5 198.75,567.5 121.25,567.5 121.25,573 113.25,573 113.25,570 72.5,570" fill="none" stroke="#303030" stroke-width="1"/>
<polygon points="117,573 127,589.5 125.63,590.33 115.63,573.83" fill="#b5b5b5" stroke="#3a3a3a" stroke-width="0.75"/>
<polyline points="127,589.5 120,592" fill="none" stroke="#606060" stroke-width="0.8"/>
<polyline points="113.25,592 121.25,592" fill="none" stroke="#606060" stroke-width="0.9"/>
<polyline points="121.25,592 121.25,612.5" fill="none" stroke="#888" stroke-width="0.8"/>
<polyline points="113.25,592 113.25,612.5" fill="none" stroke="#666" stroke-width="0.8"/>
<polyline points="114.85,592 114.85,612.5" fill="none" stroke="#8a8a8a" stroke-width="1"/>
<polyline points="116.45,592 116.45,612.5" fill="none" stroke="#8a8a8a" stroke-width="1"/>
<polyline points="113.25,612.5 121.25,612.5 121.25,648" fill="none" stroke="#303030" stroke-width="1"/>
<polyline points="113.25,612.5 113.25,648" fill="none" stroke="#303030" stroke-width="1"/>
<polyline points="72.5,570 72.5,628.25" fill="none" stroke="#888" stroke-width="0.8"/>
<polyline points="83.75,570 83.75,628.25" fill="none" stroke="#666" stroke-width="0.8"/>
<polyline points="81.5,570 81.5,628.25" fill="none" stroke="#8a8a8a" stroke-width="1"/>
<polyline points="79.25,570 79.25,628.25" fill="none" stroke="#8a8a8a" stroke-width="1"/>
<polyline points="72.5,628.25 83.75,628.25 83.75,648 184.25,648" fill="none" stroke="#303030" stroke-width="1"/>
<polyline points="72.5,628.25 72.5,659.25 184.25,659.25 184.25,648" fill="none" stroke="#303030" stroke-width="1"/>
<polyline points="184.25,659.25 239.5,659.25" fill="none" stroke="#888" stroke-width="0.8"/>
<polyline points="184.25,648 239.5,648" fill="none" stroke="#666" stroke-width="0.8"/>
<polyline points="184.25,650.25 239.5,650.25" fill="none" stroke="#8a8a8a" stroke-width="1"/>
<polyline points="184.25,652.5 239.5,652.5" fill="none" stroke="#8a8a8a" stroke-width="1"/>
<polyline points="239.5,648 255,648 255,562 308.75,562 308.75,520" fill="none" stroke="#303030" stroke-width="1"/>
<polyline points="239.5,648 239.5,659.25 273.25,659.25 273.25,648 260.75,648 260.75,567.5 314.5,567.5 314.5,520 308.75,520" fill="none" stroke="#303030" stroke-width="1"/>
<text x="146.6" y="519.25" font-size="9.6" text-anchor="middle" class="ts">11.44</text>
<text x="222" y="514" font-size="9.6" text-anchor="middle" class="ts">3.59</text>
<text x="242" y="553.5" font-size="9.6" text-anchor="middle" class="ts">2.96</text>
<text x="161" y="588.5" font-size="9.6" text-anchor="middle" class="ts">14.51</text>
<text x="98.5" y="602" font-size="9.6" text-anchor="middle" class="ts">3.06</text>
<text x="203" y="600.5" font-size="12.5" text-anchor="middle" class="tn">1K</text>
<polyline points="181,604.5 225,604.5" fill="none" stroke="#303030" stroke-width="1"/>
<text x="203" y="618.5" font-size="12.7" text-anchor="middle" class="tb">32.50</text>
<polyline points="181,624.0 225,624.0" fill="none" stroke="#303030" stroke-width="1"/>
<text x="203" y="637.2" font-size="12.7" text-anchor="middle" class="tb">34.03</text>
<polyline points="252,535.5 266.1,535.5" fill="none" stroke="#303030" stroke-width="1"/>
<polyline points="273,112.8 380.5,112.8 380.5,111.3" fill="none" stroke="#303030" stroke-width="1"/>
<polyline points="273,116 378,116 378,117.8" fill="none" stroke="#606060" stroke-width="0.9"/>
<polyline points="273,114.4 379,114.4" fill="none" stroke="#999" stroke-width="0.7"/>
<polygon points="282.25,155.4 304.8,143.6 305.54,145.02 282.99,156.82" fill="#b5b5b5" stroke="#3a3a3a" stroke-width="0.75"/>
<polyline points="304.8,143.6 308,157" fill="none" stroke="#606060" stroke-width="0.8"/>
<polygon points="282.25,196.7 304.8,183.6 305.60,184.98 283.05,198.08" fill="#b5b5b5" stroke="#3a3a3a" stroke-width="0.75"/>
<polyline points="304.8,183.6 308,198" fill="none" stroke="#606060" stroke-width="0.8"/>
<polyline points="308.4,321.9 308.4,151.1 346.7,151.1 346.7,161 314.6,161 314.6,315.9 381.4,315.9 381.4,161 372.9,161 372.9,150.3" fill="none" stroke="#303030" stroke-width="1"/>
<polyline points="314.6,214.40 343.7,214.40" fill="none" stroke="#606060" stroke-width="0.9"/>
<polyline points="352.3,214.40 381.4,214.40" fill="none" stroke="#606060" stroke-width="0.9"/>
<polyline points="314.6,222.38 343.7,222.38" fill="none" stroke="#606060" stroke-width="0.9"/>
<polyline points="352.3,222.38 381.4,222.38" fill="none" stroke="#606060" stroke-width="0.9"/>
<polyline points="314.6,230.36 343.7,230.36" fill="none" stroke="#606060" stroke-width="0.9"/>
<polyline points="352.3,230.36 381.4,230.36" fill="none" stroke="#606060" stroke-width="0.9"/>
<polyline points="314.6,238.34 343.7,238.34" fill="none" stroke="#606060" stroke-width="0.9"/>
<polyline points="352.3,238.34 381.4,238.34" fill="none" stroke="#606060" stroke-width="0.9"/>
<polyline points="314.6,246.32 343.7,246.32" fill="none" stroke="#606060" stroke-width="0.9"/>
<polyline points="352.3,246.32 381.4,246.32" fill="none" stroke="#606060" stroke-width="0.9"/>
<polyline points="314.6,254.30 343.7,254.30" fill="none" stroke="#606060" stroke-width="0.9"/>
<polyline points="352.3,254.30 381.4,254.30" fill="none" stroke="#606060" stroke-width="0.9"/>
<polyline points="314.6,262.28 343.7,262.28" fill="none" stroke="#606060" stroke-width="0.9"/>
<polyline points="352.3,262.28 381.4,262.28" fill="none" stroke="#606060" stroke-width="0.9"/>
<polyline points="314.6,270.26 343.7,270.26" fill="none" stroke="#606060" stroke-width="0.9"/>
<polyline points="352.3,270.26 381.4,270.26" fill="none" stroke="#606060" stroke-width="0.9"/>
<polyline points="314.6,278.24 343.7,278.24" fill="none" stroke="#606060" stroke-width="0.9"/>
<polyline points="352.3,278.24 381.4,278.24" fill="none" stroke="#606060" stroke-width="0.9"/>
<polyline points="314.6,286.22 343.7,286.22" fill="none" stroke="#606060" stroke-width="0.9"/>
<polyline points="352.3,286.22 381.4,286.22" fill="none" stroke="#606060" stroke-width="0.9"/>
<rect x="343.7" y="209.5" width="8.600000000000023" height="76.80000000000001" fill="#fff" stroke="#303030" stroke-width="1"/>
<rect x="345.6" y="211.5" width="4.7999999999999545" height="72.89999999999998" rx="2" fill="none" stroke="#606060" stroke-width="0.8"/>
<polyline points="329,214.4 329,284" fill="none" stroke="#606060" stroke-width="0.7"/>
<circle cx="329" cy="214.4" r="0.9" fill="#303030" stroke="#606060" stroke-width="0.1"/>
<polyline points="327.2,280 329,285.5 330.8,280" fill="none" stroke="#606060" stroke-width="0.8"/>
<polyline points="367,286.3 367,216" fill="none" stroke="#606060" stroke-width="0.7"/>
<circle cx="367" cy="286.3" r="0.9" fill="#303030" stroke="#606060" stroke-width="0.1"/>
<polyline points="365.2,221 367,215.5 368.8,221" fill="none" stroke="#606060" stroke-width="0.8"/>
<polyline points="365.2,256 367,250.5 368.8,256" fill="none" stroke="#606060" stroke-width="0.8"/>
<polyline points="352.3,264 381.4,232" fill="none" stroke="#606060" stroke-width="0.9"/>
<polyline points="352.3,267 381.4,235" fill="none" stroke="#606060" stroke-width="0.9"/>
<polyline points="308.4,321.9 327.8,321.9 327.8,355.9 310,355.9" fill="none" stroke="#303030" stroke-width="1"/>
<polyline points="308.4,358.8 327.8,358.8 327.8,365.4 333.9,365.4 333.9,321.9 384,321.9 384,359.2" fill="none" stroke="#303030" stroke-width="1"/>
<polygon points="308.4,321.9 298.5,341.1 297.08,340.37 306.98,321.17" fill="#b5b5b5" stroke="#3a3a3a" stroke-width="0.75"/>
<polyline points="298.5,341.1 304,344 308,344 310,355.9" fill="none" stroke="#606060" stroke-width="0.8"/>
<polyline points="308.4,355.9 310,355.9" fill="none" stroke="#303030" stroke-width="1"/>
<polyline points="308.4,355.9 308.4,358.8" fill="none" stroke="#303030" stroke-width="1"/>
<polygon points="328.9,365.4 316.1,387.1 314.72,386.29 327.52,364.59" fill="#b5b5b5" stroke="#3a3a3a" stroke-width="0.75"/>
<polyline points="316.1,387.1 322,390 326,390 328.9,401.4" fill="none" stroke="#606060" stroke-width="0.8"/>
<polyline points="383.5,111.2 419,111.2 419,118.1 389.7,118.1 389.7,144.1 425.9,144.1 425.9,151.8 389.7,151.8 389.7,335" fill="none" stroke="#303030" stroke-width="1"/>
<polyline points="383.5,111.2 383.5,117.8 380.2,117.8 380.2,151 372.5,151 372.5,160.9 381.6,160.9" fill="none" stroke="#303030" stroke-width="1"/>
<polyline points="419,111.6 471.9,111.6" fill="none" stroke="#888" stroke-width="0.8"/>
<polyline points="419,118.1 471.9,118.1" fill="none" stroke="#666" stroke-width="0.8"/>
<polyline points="419,116.14999999999999 471.9,116.14999999999999" fill="none" stroke="#8a8a8a" stroke-width="1"/>
<polyline points="419,114.85 471.9,114.85" fill="none" stroke="#8a8a8a" stroke-width="1"/>
<polygon points="471.9,110.4 506.4,110.4 506.4,123.3 481.7,123.3 481.7,216.3 536.25,216.3 536.25,218.75 478,218.75 478,258 472.5,258 472.5,256 475.4,256 475.4,152.6 472,152.6 472,148 470.4,148 470.4,118.1 471.9,118.1" fill="#fff" stroke="#303030" stroke-width="1"/>
<polyline points="506.4,110.9 561.25,110.9" fill="none" stroke="#888" stroke-width="0.8"/>
<polyline points="506.4,123.3 561.25,123.3" fill="none" stroke="#666" stroke-width="0.8"/>
<polyline points="506.4,119.58 561.25,119.58" fill="none" stroke="#8a8a8a" stroke-width="1"/>
<polyline points="506.4,117.1 561.25,117.1" fill="none" stroke="#8a8a8a" stroke-width="1"/>
<polygon points="561.25,110.4 613.25,110.4 613.25,123.5 564.25,123.5 564.25,216.3 565,216.3 565,219.5 556.25,219.5 556.25,216.3 560.6,216.3 560.6,123.5 561.25,123.5" fill="#fff" stroke="#303030" stroke-width="1"/>
<polyline points="613.25,110.9 667,110.9" fill="none" stroke="#888" stroke-width="0.8"/>
<polyline points="613.25,123.5 667,123.5" fill="none" stroke="#666" stroke-width="0.8"/>
<polyline points="613.25,119.72 667,119.72" fill="none" stroke="#8a8a8a" stroke-width="1"/>
<polyline points="613.25,117.2 667,117.2" fill="none" stroke="#8a8a8a" stroke-width="1"/>
<polygon points="667,110.4 717.5,110.4 717.5,141.25 704.5,141.25 704.5,123.5 667,123.5" fill="#fff" stroke="#303030" stroke-width="1"/>
<polyline points="717.5,141.25 717.5,197" fill="none" stroke="#888" stroke-width="0.8"/>
<polyline points="704.5,141.25 704.5,197" fill="none" stroke="#666" stroke-width="0.8"/>
<polyline points="707.1,141.25 707.1,197" fill="none" stroke="#8a8a8a" stroke-width="1"/>
<polyline points="709.7,141.25 709.7,197" fill="none" stroke="#8a8a8a" stroke-width="1"/>
<polygon points="704.5,197 717.5,197 717.5,252 704.5,252" fill="#fff" stroke="#303030" stroke-width="1"/>
<polyline points="587,216.75 704.5,216.75" fill="none" stroke="#303030" stroke-width="1"/>
<polyline points="599.25,222.5 704.5,222.5 704.5,252" fill="none" stroke="#303030" stroke-width="1"/>
<polyline points="587,216.75 587,218.75 593.75,218.75 593.75,245.5 560,245.5 560,257" fill="none" stroke="#303030" stroke-width="1"/>
<polyline points="599.25,222.5 599.25,245.5" fill="none" stroke="#303030" stroke-width="1"/>
<polyline points="426,152.2 475.4,152.2" fill="none" stroke="#606060" stroke-width="0.9"/>
<rect x="426.7" y="144.1" width="23.80000000000001" height="3.9000000000000057" fill="#9a9a9a" stroke="#666" stroke-width="0.8"/>
<polyline points="426.7,151.8 450.5,151.8" fill="none" stroke="#606060" stroke-width="0.8"/>
<polygon points="469.9,148 453.8,158.4 452.93,157.06 469.03,146.66" fill="#b5b5b5" stroke="#3a3a3a" stroke-width="0.75"/>
<polyline points="453.8,158.4 450.5,151.8" fill="none" stroke="#606060" stroke-width="0.8"/>
<polygon points="556.25,217.5 540,207.5 540.84,206.14 557.09,216.14" fill="#b5b5b5" stroke="#3a3a3a" stroke-width="0.75"/>
<polyline points="540,207.5 536.25,216.3" fill="none" stroke="#606060" stroke-width="0.8"/>
<polygon points="565,217.5 583.75,207.5 584.50,208.91 565.75,218.91" fill="#b5b5b5" stroke="#3a3a3a" stroke-width="0.75"/>
<polyline points="583.75,207.5 587,216.75" fill="none" stroke="#606060" stroke-width="0.8"/>
<polyline points="389.7,154.3 406.1,154.3 406.1,222.5 413.6,230 440.5,230 440.5,245.5" fill="none" stroke="#606060" stroke-width="0.9"/>
<polygon points="389.9,154.3 406.1,154.3 406.1,222.5 413.6,230 440.5,230 440.5,245.5 389.9,245.5" fill="#fff" stroke="#606060" stroke-width="0.9"/>
<rect x="390.5" y="154.3" width="14.800000000000011" height="15.599999999999994" fill="#fff" stroke="#606060" stroke-width="0.9"/>
<circle cx="397.9" cy="162.10000000000002" r="1.05" fill="#303030" stroke="#606060" stroke-width="0.2"/>
<polyline points="389.9,169.9 406.1,169.9" fill="none" stroke="#606060" stroke-width="0.9"/>
<polyline points="389.9,184.4 406.1,184.4" fill="none" stroke="#606060" stroke-width="0.9"/>
<polyline points="389.9,198.7 406.1,198.7" fill="none" stroke="#606060" stroke-width="0.9"/>
<polyline points="389.9,214.3 406.1,214.3" fill="none" stroke="#606060" stroke-width="0.9"/>
<polyline points="389.9,221.7 406.1,221.7" fill="none" stroke="#606060" stroke-width="0.9"/>
<rect x="391.4" y="199.5" width="14.400000000000034" height="13.900000000000006" fill="#fff" stroke="#606060" stroke-width="0.9"/>
<circle cx="395.00000000000006" cy="203.42499999999998" r="2.5000000000000084" fill="none" stroke="#4a4a4a" stroke-width="0.9"/>
<circle cx="395.00000000000006" cy="209.475" r="2.5000000000000084" fill="none" stroke="#4a4a4a" stroke-width="0.9"/>
<circle cx="400.40000000000003" cy="203.42499999999998" r="2.5000000000000084" fill="none" stroke="#4a4a4a" stroke-width="0.9"/>
<circle cx="400.40000000000003" cy="209.475" r="2.5000000000000084" fill="none" stroke="#4a4a4a" stroke-width="0.9"/>
<circle cx="404.6" cy="203.114" r="0.38" fill="#303030" stroke="#606060" stroke-width="0.1"/>
<circle cx="404.6" cy="205.338" r="0.38" fill="#303030" stroke="#606060" stroke-width="0.1"/>
<circle cx="404.6" cy="207.562" r="0.38" fill="#303030" stroke="#606060" stroke-width="0.1"/>
<circle cx="404.6" cy="209.786" r="0.38" fill="#303030" stroke="#606060" stroke-width="0.1"/>
<polygon points="402.3,225.9 410.3,233.9 402.3,241.9 394.3,233.9" fill="#fff" stroke="#606060" stroke-width="0.9"/>
<polygon points="402.3,228.94 407.26,233.9 402.3,238.86 397.34000000000003,233.9" fill="#e4e4e4" stroke="#606060" stroke-width="0.8"/>
<circle cx="402.3" cy="233.9" r="0.6" fill="#303030" stroke="#606060" stroke-width="0.1"/>
<rect x="414.5" y="230" width="15.0" height="15.5" fill="#fff" stroke="#606060" stroke-width="0.9"/>
<circle cx="420.5" cy="238.99" r="3.5999999999999996" fill="none" stroke="#606060" stroke-width="0.9"/>
<circle cx="425.0" cy="234.96" r="1.5" fill="none" stroke="#606060" stroke-width="0.8"/>
<circle cx="425.6" cy="240.85" r="1.5" fill="none" stroke="#606060" stroke-width="0.8"/>
<circle cx="420.2" cy="233.41" r="1.2" fill="none" stroke="#606060" stroke-width="0.8"/>
<polyline points="429.5,230 429.5,245.5" fill="none" stroke="#606060" stroke-width="0.9"/>
<polyline points="389.7,245.5 440.5,245.5" fill="none" stroke="#303030" stroke-width="1"/>
<polyline points="443.75,257 450.2,257 450.2,259.2 443.75,259.2" fill="none" stroke="#303030" stroke-width="1"/>
<polygon points="472.5,256.25 452.5,246.25 453.22,244.82 473.22,254.82" fill="#b5b5b5" stroke="#3a3a3a" stroke-width="0.75"/>
<polyline points="452.5,246.25 449.5,257.5" fill="none" stroke="#606060" stroke-width="0.8"/>
<polyline points="389.7,247.5 441.25,247.5" fill="none" stroke="#606060" stroke-width="0.9"/>
<polyline points="441.25,245.5 441.25,260" fill="none" stroke="#303030" stroke-width="1"/>
<polyline points="443.75,245.5 443.75,260 441.25,260" fill="none" stroke="#303030" stroke-width="1"/>
<polyline points="440.5,245.5 443.75,245.5" fill="none" stroke="#303030" stroke-width="1"/>
<polyline points="441.25,276.25 441.25,285 389.7,285" fill="none" stroke="#606060" stroke-width="0.9"/>
<polyline points="389.7,282.5 441.25,282.5" fill="none" stroke="#606060" stroke-width="0.9"/>
<polyline points="441.25,276.25 443.75,276.25 443.75,286.25 441.25,286.25" fill="none" stroke="#303030" stroke-width="1"/>
<polygon points="443.75,260 450,272.5 448.57,273.22 442.32,260.72" fill="#b5b5b5" stroke="#3a3a3a" stroke-width="0.75"/>
<polyline points="450,272.5 441.25,276.25" fill="none" stroke="#606060" stroke-width="0.8"/>
<rect x="418.75" y="248" width="20.0" height="9.5" fill="#fff" stroke="#444" stroke-width="0.9"/>
<rect x="419.55" y="249.2" width="2.599999999999966" height="7.100000000000023" fill="#9c9c9c" stroke="#555" stroke-width="0.5"/>
<rect x="435.35" y="249.2" width="2.599999999999966" height="7.100000000000023" fill="#9c9c9c" stroke="#555" stroke-width="0.5"/>
<rect x="422.15" y="249.4" width="13.200000000000045" height="6.700000000000017" fill="#fff" stroke="#3c3c3c" stroke-width="1.0"/>
<rect x="392.02" y="265.52" width="3.400000000000034" height="12.960000000000036" fill="#fff" stroke="#606060" stroke-width="0.9"/>
<ellipse cx="402.5" cy="272" rx="7.68" ry="5.52" fill="#fff" stroke="#303030" stroke-width="1.0"/>
<ellipse cx="403.1" cy="272" rx="5.2224" ry="3.4223999999999997" fill="#e9eaeb" stroke="#606060" stroke-width="0.7"/>
<circle cx="399.044" cy="272" r="0.9" fill="#fff" stroke="#606060" stroke-width="0.6"/>
<rect x="391.25" y="285.75" width="16.75" height="43.75" fill="#fff" stroke="#606060" stroke-width="0.9"/>
<path d="M392.75,287.55 L406.5,287.55 L406.5,320.825 A6.875,6.875 0 0 1 392.75,320.825 Z" fill="#e9eaeb" stroke="#606060" stroke-width="0.9"/>
<polyline points="393.45,292.75 396.75,288.25" fill="none" stroke="#303030" stroke-width="1.3"/>
<rect x="410.5" y="286.25" width="14.5" height="10.0" rx="1.5" fill="#fff" stroke="#606060" stroke-width="0.9"/>
<rect x="412.1" y="287.85" width="11.299999999999955" height="6.7999999999999545" rx="2" fill="#e9eaeb" stroke="#606060" stroke-width="0.8"/>
<polyline points="417.75,287.25 417.75,290.45" fill="none" stroke="#303030" stroke-width="1.2"/>
<polyline points="416.25,288.45 419.25,288.45" fill="none" stroke="#606060" stroke-width="0.9"/>
<rect x="423.75" y="315.5" width="15.5" height="15.0" fill="#fff" stroke="#606060" stroke-width="0.9"/>
<circle cx="431.5" cy="323.0" r="4.65" fill="none" stroke="#303030" stroke-width="1.1"/>
<polygon points="441.25,302.5 448,290.75 449.39,291.55 442.64,303.30" fill="#b5b5b5" stroke="#3a3a3a" stroke-width="0.75"/>
<polyline points="448,290.75 442.5,286.25" fill="none" stroke="#606060" stroke-width="0.8"/>
<polyline points="441.25,302.5 441.25,330.5" fill="none" stroke="#303030" stroke-width="1"/>
<polyline points="443.75,302.5 443.75,330.5" fill="none" stroke="#303030" stroke-width="1"/>
<polyline points="441.25,302.5 443.75,302.5" fill="none" stroke="#303030" stroke-width="1"/>
<polyline points="443.75,307.5 468.75,307.5" fill="none" stroke="#303030" stroke-width="1"/>
<polyline points="481.25,307.5 512.5,307.5" fill="none" stroke="#303030" stroke-width="1"/>
<polyline points="443.75,310 512.5,310" fill="none" stroke="#606060" stroke-width="0.9"/>
<rect x="443.75" y="310" width="68.75" height="21" fill="#fff" stroke="#606060" stroke-width="0.9"/>
<polyline points="446.50,317 446.50,329" fill="none" stroke="#555" stroke-width="0.7"/>
<polyline points="448.45,317 448.45,329" fill="none" stroke="#555" stroke-width="0.7"/>
<polyline points="450.40,317 450.40,329" fill="none" stroke="#555" stroke-width="0.7"/>
<polyline points="452.35,317 452.35,329" fill="none" stroke="#555" stroke-width="0.7"/>
<polyline points="454.30,317 454.30,329" fill="none" stroke="#555" stroke-width="0.7"/>
<polyline points="456.25,317 456.25,329" fill="none" stroke="#555" stroke-width="0.7"/>
<polyline points="458.20,317 458.20,329" fill="none" stroke="#555" stroke-width="0.7"/>
<polyline points="460.15,317 460.15,329" fill="none" stroke="#555" stroke-width="0.7"/>
<polyline points="462.10,317 462.10,329" fill="none" stroke="#555" stroke-width="0.7"/>
<polyline points="464.05,317 464.05,329" fill="none" stroke="#555" stroke-width="0.7"/>
<polyline points="466.00,317 466.00,329" fill="none" stroke="#555" stroke-width="0.7"/>
<polyline points="467.95,317 467.95,329" fill="none" stroke="#555" stroke-width="0.7"/>
<polyline points="469.90,317 469.90,329" fill="none" stroke="#555" stroke-width="0.7"/>
<polyline points="471.85,317 471.85,329" fill="none" stroke="#555" stroke-width="0.7"/>
<polyline points="473.80,317 473.80,329" fill="none" stroke="#555" stroke-width="0.7"/>
<polyline points="475.75,317 475.75,329" fill="none" stroke="#555" stroke-width="0.7"/>
<polyline points="477.70,317 477.70,329" fill="none" stroke="#555" stroke-width="0.7"/>
<polyline points="479.65,317 479.65,329" fill="none" stroke="#555" stroke-width="0.7"/>
<polyline points="481.60,317 481.60,329" fill="none" stroke="#555" stroke-width="0.7"/>
<polyline points="483.55,317 483.55,329" fill="none" stroke="#555" stroke-width="0.7"/>
<polyline points="485.50,317 485.50,329" fill="none" stroke="#555" stroke-width="0.7"/>
<polyline points="487.45,317 487.45,329" fill="none" stroke="#555" stroke-width="0.7"/>
<polyline points="489.40,317 489.40,329" fill="none" stroke="#555" stroke-width="0.7"/>
<polyline points="491.35,317 491.35,329" fill="none" stroke="#555" stroke-width="0.7"/>
<polyline points="493.30,317 493.30,329" fill="none" stroke="#555" stroke-width="0.7"/>
<polyline points="495.25,317 495.25,329" fill="none" stroke="#555" stroke-width="0.7"/>
<polyline points="497.20,317 497.20,329" fill="none" stroke="#555" stroke-width="0.7"/>
<polyline points="499.15,317 499.15,329" fill="none" stroke="#555" stroke-width="0.7"/>
<polyline points="501.10,317 501.10,329" fill="none" stroke="#555" stroke-width="0.7"/>
<polyline points="503.05,317 503.05,329" fill="none" stroke="#555" stroke-width="0.7"/>
<polyline points="505.00,317 505.00,329" fill="none" stroke="#555" stroke-width="0.7"/>
<polyline points="506.95,317 506.95,329" fill="none" stroke="#555" stroke-width="0.7"/>
<polyline points="508.90,317 508.90,329" fill="none" stroke="#555" stroke-width="0.7"/>
<polyline points="445.5,329.5 511,329.5" fill="none" stroke="#606060" stroke-width="0.8"/>
<polygon points="468.75,300 481.25,307.5 480.43,308.87 467.93,301.37" fill="#b5b5b5" stroke="#3a3a3a" stroke-width="0.75"/>
<polyline points="468.75,300 468.75,307.5" fill="none" stroke="#606060" stroke-width="0.8"/>
<polyline points="389.7,330.5 512.5,330.5" fill="none" stroke="#303030" stroke-width="1"/>
<polyline points="384,359.2 512.5,359.2" fill="none" stroke="#303030" stroke-width="1"/>
<polyline points="389.7,335 512.5,335" fill="none" stroke="#606060" stroke-width="0.9"/>
<rect x="389.25" y="336.25" width="35.25" height="20.0" fill="none" stroke="#606060" stroke-width="0.9"/>
<rect x="430.5" y="336.25" width="26.25" height="20.0" fill="none" stroke="#606060" stroke-width="0.9"/>
<rect x="462.5" y="336.25" width="25.5" height="20.0" fill="none" stroke="#606060" stroke-width="0.9"/>
<rect x="495" y="336.25" width="17" height="20.0" fill="none" stroke="#606060" stroke-width="0.9"/>
<polyline points="560,257 512.5,257 512.5,281" fill="none" stroke="#303030" stroke-width="1"/>
<polyline points="512.5,307.5 512.5,365 518,365 518,307.5" fill="none" stroke="#303030" stroke-width="1"/>
<polyline points="517.5,281 517.5,262.3 560,262.3" fill="none" stroke="#303030" stroke-width="1"/>
<polyline points="517.5,276.1 525.5,276.1 526.3,279.2" fill="none" stroke="#606060" stroke-width="0.9"/>
<polygon points="559.5,278 540.25,289.2 539.45,287.82 558.70,276.62" fill="#b5b5b5" stroke="#3a3a3a" stroke-width="0.75"/>
<polyline points="540.25,289.2 537,279.4 535.4,284.3 526.3,279.2" fill="none" stroke="#606060" stroke-width="0.8"/>
<polygon points="515,281.25 528.75,303.75 527.38,304.58 513.63,282.08" fill="#b5b5b5" stroke="#3a3a3a" stroke-width="0.75"/>
<polyline points="528.75,303.75 512.5,307.5" fill="none" stroke="#606060" stroke-width="0.8"/>
<polyline points="512.5,281 517.5,281" fill="none" stroke="#606060" stroke-width="0.8"/>
<polygon points="512.5,365 500,386.25 498.62,385.44 511.12,364.19" fill="#b5b5b5" stroke="#3a3a3a" stroke-width="0.75"/>
<polyline points="500,386.25 505,389 508,389 511,401.25" fill="none" stroke="#606060" stroke-width="0.8"/>
<text x="440" y="136.7" font-size="9.6" text-anchor="middle" class="ts">2.99</text>
<text x="451" y="227" font-size="9.6" text-anchor="middle" class="ts">11.84</text>
<text x="534" y="194.5" font-size="9.6" text-anchor="middle" class="ts">10.40</text>
<text x="679.5" y="198" font-size="9.6" text-anchor="middle" class="ts">18.30</text>
<text x="473.5" y="286.5" font-size="9.6" text-anchor="middle" class="ts">10.38</text>
<text x="424" y="268.5" font-size="9.6" text-anchor="middle" class="ts">2.09</text>
<text x="425" y="308.5" font-size="9.6" text-anchor="middle" class="ts">3.25</text>
<text x="478.8" y="314.8" font-size="9.6" text-anchor="middle" class="ts">2.05</text>
<text x="637" y="149" font-size="12.5" text-anchor="middle" class="tn">2K</text>
<polyline points="615,153 659,153" fill="none" stroke="#303030" stroke-width="1"/>
<text x="637" y="167" font-size="12.7" text-anchor="middle" class="tb">58.31</text>
<polyline points="615,172.5 659,172.5" fill="none" stroke="#303030" stroke-width="1"/>
<text x="637" y="185.7" font-size="12.7" text-anchor="middle" class="tb">59.81</text>
<polyline points="717.5,252 717.5,306.25" fill="none" stroke="#888" stroke-width="0.8"/>
<polyline points="704.5,252 704.5,306.25" fill="none" stroke="#666" stroke-width="0.8"/>
<polyline points="707.1,252 707.1,306.25" fill="none" stroke="#8a8a8a" stroke-width="1"/>
<polyline points="709.7,252 709.7,306.25" fill="none" stroke="#8a8a8a" stroke-width="1"/>
<polyline points="704.5,306.25 717.5,306.25 717.5,324.25 807,324.25 807,355 796,355 796,336.75 766.5,336.75" fill="none" stroke="#303030" stroke-width="1"/>
<polyline points="704.5,306.25 704.5,330 615,330 615,336.25" fill="none" stroke="#303030" stroke-width="1"/>
<polyline points="807,355 807,418" fill="none" stroke="#888" stroke-width="0.8"/>
<polyline points="796,355 796,418" fill="none" stroke="#666" stroke-width="0.8"/>
<polyline points="798.2,355 798.2,418" fill="none" stroke="#8a8a8a" stroke-width="1"/>
<polyline points="800.4,355 800.4,418" fill="none" stroke="#8a8a8a" stroke-width="1"/>
<rect x="796" y="418" width="11" height="36" fill="none" stroke="#303030" stroke-width="1"/>
<polyline points="807,454 807,513.25" fill="none" stroke="#888" stroke-width="0.8"/>
<polyline points="796,454 796,513.25" fill="none" stroke="#666" stroke-width="0.8"/>
<polyline points="798.2,454 798.2,513.25" fill="none" stroke="#8a8a8a" stroke-width="1"/>
<polyline points="800.4,454 800.4,513.25" fill="none" stroke="#8a8a8a" stroke-width="1"/>
<rect x="796" y="513.25" width="11" height="34.75" fill="none" stroke="#303030" stroke-width="1"/>
<polyline points="807,548 807,602" fill="none" stroke="#888" stroke-width="0.8"/>
<polyline points="794.5,548 794.5,602" fill="none" stroke="#666" stroke-width="0.8"/>
<polyline points="797.0,548 797.0,602" fill="none" stroke="#8a8a8a" stroke-width="1"/>
<polyline points="799.5,548 799.5,602" fill="none" stroke="#8a8a8a" stroke-width="1"/>
<polyline points="794.5,602 807,602 807,723.25" fill="none" stroke="#303030" stroke-width="1"/>
<polyline points="560,246.2 594,246.2" fill="none" stroke="#303030" stroke-width="1"/>
<polyline points="565.4,251.1 594,251.1 594,302.4" fill="none" stroke="#606060" stroke-width="0.9"/>
<polyline points="565.4,251.1 565.4,302.4 577.2,302.4" fill="none" stroke="#606060" stroke-width="0.9"/>
<polyline points="560,257 560,307.3 565.4,307.3 565.4,302.4" fill="none" stroke="#303030" stroke-width="1"/>
<polyline points="599.25,245.5 599.25,302.4 617.5,302.4 617.5,308.1 615,308.1" fill="none" stroke="#303030" stroke-width="1"/>
<rect x="573.1" y="251.8" width="20.600000000000023" height="10.300000000000011" fill="#fff" stroke="#444" stroke-width="0.9"/>
<rect x="573.9" y="253.0" width="2.6000000000000227" height="7.900000000000034" fill="#9c9c9c" stroke="#555" stroke-width="0.5"/>
<rect x="590.3000000000001" y="253.0" width="2.6000000000000227" height="7.900000000000034" fill="#9c9c9c" stroke="#555" stroke-width="0.5"/>
<rect x="576.5" y="253.20000000000002" width="13.800000000000068" height="7.500000000000028" fill="#fff" stroke="#3c3c3c" stroke-width="1.0"/>
<rect x="577.3199999999999" y="263.32" width="12.960000000000036" height="3.400000000000034" fill="#fff" stroke="#606060" stroke-width="0.9"/>
<ellipse cx="583.8" cy="273.8" rx="5.52" ry="7.68" fill="#fff" stroke="#303030" stroke-width="1.0"/>
<ellipse cx="583.8" cy="274.40000000000003" rx="3.4223999999999997" ry="5.2224" fill="#e9eaeb" stroke="#606060" stroke-width="0.7"/>
<circle cx="583.8" cy="270.344" r="0.9" fill="#fff" stroke="#606060" stroke-width="0.6"/>
<rect x="565.9" y="284.3" width="8.899999999999977" height="12.800000000000011" rx="1.5" fill="#fff" stroke="#606060" stroke-width="0.9"/>
<rect x="567.5" y="285.90000000000003" width="5.699999999999932" height="9.599999999999966" rx="2" fill="#e9eaeb" stroke="#606060" stroke-width="0.8"/>
<polyline points="566.9,290.70000000000005 570.1,290.70000000000005" fill="none" stroke="#303030" stroke-width="1.2"/>
<polyline points="568.1,289.20000000000005 568.1,292.20000000000005" fill="none" stroke="#606060" stroke-width="0.9"/>
<polygon points="577.2,303.2 590.4,311.9 589.52,313.24 576.32,304.54" fill="#b5b5b5" stroke="#3a3a3a" stroke-width="0.75"/>
<polyline points="590.4,311.9 594,302.4" fill="none" stroke="#606060" stroke-width="0.8"/>
<polygon points="559.5,307.3 548.5,330 547.06,329.30 558.06,306.60" fill="#b5b5b5" stroke="#3a3a3a" stroke-width="0.75"/>
<polyline points="548.5,330 560.8,333.6" fill="none" stroke="#606060" stroke-width="0.8"/>
<polygon points="615,330.3 627.3,311.4 628.64,312.27 616.34,331.17" fill="#b5b5b5" stroke="#3a3a3a" stroke-width="0.75"/>
<polyline points="627.3,311.4 615,308.1" fill="none" stroke="#606060" stroke-width="0.8"/>
<polygon points="615,336.25 627.3,355.5 625.95,356.36 613.65,337.11" fill="#b5b5b5" stroke="#3a3a3a" stroke-width="0.75"/>
<polyline points="627.3,355.5 614.5,360.5" fill="none" stroke="#606060" stroke-width="0.8"/>
<polyline points="560,333.6 560,488.9 601.7,488.9" fill="none" stroke="#303030" stroke-width="1"/>
<polyline points="565,333.6 565,375.75" fill="none" stroke="#303030" stroke-width="1"/>
<polyline points="560.8,333.6 565,333.6" fill="none" stroke="#303030" stroke-width="1"/>
<rect x="565" y="333.75" width="16.25" height="41.75" fill="#fff" stroke="#444" stroke-width="1"/>
<polyline points="567.2,333.75 567.2,375.5" fill="none" stroke="#666" stroke-width="0.7"/>
<polyline points="568.6,335.75 579.45,335.75" fill="none" stroke="#505050" stroke-width="0.8"/>
<polyline points="568.6,338.65 579.45,338.65" fill="none" stroke="#505050" stroke-width="0.8"/>
<polyline points="568.6,341.56 579.45,341.56" fill="none" stroke="#505050" stroke-width="0.8"/>
<polyline points="568.6,344.46 579.45,344.46" fill="none" stroke="#505050" stroke-width="0.8"/>
<polyline points="568.6,347.37 579.45,347.37" fill="none" stroke="#505050" stroke-width="0.8"/>
<polyline points="568.6,350.27 579.45,350.27" fill="none" stroke="#505050" stroke-width="0.8"/>
<polyline points="568.6,353.17 579.45,353.17" fill="none" stroke="#505050" stroke-width="0.8"/>
<polyline points="568.6,356.08 579.45,356.08" fill="none" stroke="#505050" stroke-width="0.8"/>
<polyline points="568.6,358.98 579.45,358.98" fill="none" stroke="#505050" stroke-width="0.8"/>
<polyline points="568.6,361.88 579.45,361.88" fill="none" stroke="#505050" stroke-width="0.8"/>
<polyline points="568.6,364.79 579.45,364.79" fill="none" stroke="#505050" stroke-width="0.8"/>
<polyline points="568.6,367.69 579.45,367.69" fill="none" stroke="#505050" stroke-width="0.8"/>
<polyline points="568.6,370.60 579.45,370.60" fill="none" stroke="#505050" stroke-width="0.8"/>
<polyline points="568.6,373.50 579.45,373.50" fill="none" stroke="#505050" stroke-width="0.8"/>
<rect x="560.75" y="380" width="10.0" height="28.75" fill="none" stroke="#606060" stroke-width="0.9"/>
<rect x="560.75" y="408.75" width="10.0" height="33.75" fill="none" stroke="#606060" stroke-width="0.9"/>
<rect x="560.75" y="442.5" width="10.0" height="41.25" fill="none" stroke="#606060" stroke-width="0.9"/>
<polyline points="573.25,375.75 597.5,375.75" fill="none" stroke="#303030" stroke-width="1"/>
<polyline points="573.25,375.75 573.25,484.8" fill="none" stroke="#303030" stroke-width="1"/>
<polyline points="614.5,360.5 614.5,375.75 628,375.75" fill="none" stroke="#606060" stroke-width="0.9"/>
<polyline points="575,377.5 597.5,377.5" fill="none" stroke="#606060" stroke-width="0.9"/>
<polyline points="575,377.5 575,423" fill="none" stroke="#606060" stroke-width="0.9"/>
<polygon points="597.5,376.25 612.5,368.75 613.22,370.18 598.22,377.68" fill="#b5b5b5" stroke="#3a3a3a" stroke-width="0.75"/>
<polyline points="612.5,368.75 614.5,375.75" fill="none" stroke="#606060" stroke-width="0.8"/>
<rect x="576.25" y="380" width="16.25" height="43.75" fill="#fff" stroke="#606060" stroke-width="0.9"/>
<path d="M577.75,421.95 L591.0,421.95 L591.0,388.425 A6.625,6.625 0 0 0 577.75,388.425 Z" fill="#e9eaeb" stroke="#606060" stroke-width="0.9"/>
<polyline points="578.45,421.25 581.75,416.75" fill="none" stroke="#303030" stroke-width="1.3"/>
<rect x="596.25" y="413.75" width="13.75" height="10.0" rx="1.5" fill="#fff" stroke="#606060" stroke-width="0.9"/>
<rect x="597.85" y="415.35" width="10.549999999999955" height="6.7999999999999545" rx="2" fill="#e9eaeb" stroke="#606060" stroke-width="0.8"/>
<polyline points="603.125,414.75 603.125,417.95" fill="none" stroke="#303030" stroke-width="1.2"/>
<polyline points="601.625,415.95 604.625,415.95" fill="none" stroke="#606060" stroke-width="0.9"/>
<rect x="612.5" y="413.75" width="14.5" height="10.75" fill="#fff" stroke="#606060" stroke-width="0.9"/>
<circle cx="619.75" cy="419.125" r="3.3325" fill="none" stroke="#303030" stroke-width="1.1"/>
<rect x="618" y="378.75" width="9.5" height="20.0" fill="#fff" stroke="#444" stroke-width="0.9"/>
<rect x="619.2" y="379.55" width="7.099999999999909" height="2.599999999999966" fill="#9c9c9c" stroke="#555" stroke-width="0.5"/>
<rect x="619.2" y="395.35" width="7.099999999999909" height="2.599999999999966" fill="#9c9c9c" stroke="#555" stroke-width="0.5"/>
<rect x="619.4" y="382.15" width="6.7000000000000455" height="13.200000000000045" fill="#fff" stroke="#3c3c3c" stroke-width="1.0"/>
<polyline points="628,375.75 628,424.5" fill="none" stroke="#303030" stroke-width="1"/>
<polyline points="631.25,375.75 631.25,424.5" fill="none" stroke="#303030" stroke-width="1"/>
<polyline points="573.25,424.5 758.5,424.5" fill="none" stroke="#303030" stroke-width="1"/>
<polyline points="573.25,430 758.5,430" fill="none" stroke="#303030" stroke-width="1"/>
<polyline points="766.5,424.25 796,424.25" fill="none" stroke="#303030" stroke-width="1"/>
<polyline points="766.5,430 796,430" fill="none" stroke="#303030" stroke-width="1"/>
<polyline points="615,336.25 758.5,336.25 758.5,369.25 766.5,369.25 766.5,336.75" fill="none" stroke="#303030" stroke-width="1"/>
<polyline points="758.5,369.25 758.5,398.75" fill="none" stroke="#888" stroke-width="0.8"/>
<polyline points="766.5,369.25 766.5,398.75" fill="none" stroke="#666" stroke-width="0.8"/>
<polyline points="764.9,369.25 764.9,398.75" fill="none" stroke="#8a8a8a" stroke-width="1"/>
<polyline points="763.3,369.25 763.3,398.75" fill="none" stroke="#8a8a8a" stroke-width="1"/>
<polygon points="758.5,418.75 752.75,401.25 754.27,400.75 760.02,418.25" fill="#b5b5b5" stroke="#3a3a3a" stroke-width="0.75"/>
<polyline points="752.75,401.25 758.5,398.75" fill="none" stroke="#606060" stroke-width="0.8"/>
<rect x="758.5" y="418.75" width="8.0" height="5.5" fill="none" stroke="#303030" stroke-width="1"/>
<rect x="630.7" y="375.5" width="15.599999999999909" height="15.5" fill="#fff" stroke="#606060" stroke-width="0.9"/>
<circle cx="638.5" cy="383.25" r="1.05" fill="#303030" stroke="#606060" stroke-width="0.2"/>
<polygon points="630.9,391 646.3,391 646.3,402.7 654.7,408.7 716.3,408.7 716.3,423.9 630.9,423.9" fill="#fff" stroke="#606060" stroke-width="0.9"/>
<polyline points="630.9,401.2 646.3,401.2" fill="none" stroke="#606060" stroke-width="0.9"/>
<polygon points="643,405.09999999999997 650.6,412.7 643,420.3 635.4,412.7" fill="#fff" stroke="#606060" stroke-width="0.9"/>
<polygon points="643,407.988 647.712,412.7 643,417.412 638.288,412.7" fill="#e4e4e4" stroke="#606060" stroke-width="0.8"/>
<circle cx="643" cy="412.7" r="0.6" fill="#303030" stroke="#606060" stroke-width="0.1"/>
<polyline points="654.7,408.7 654.7,423.9" fill="none" stroke="#606060" stroke-width="0.9"/>
<rect x="669.7" y="408.7" width="15.599999999999909" height="15.199999999999989" fill="#fff" stroke="#606060" stroke-width="0.9"/>
<circle cx="675.94" cy="417.51599999999996" r="3.647999999999997" fill="none" stroke="#606060" stroke-width="0.9"/>
<circle cx="680.62" cy="413.56399999999996" r="1.519999999999999" fill="none" stroke="#606060" stroke-width="0.8"/>
<circle cx="681.244" cy="419.34" r="1.519999999999999" fill="none" stroke="#606060" stroke-width="0.8"/>
<circle cx="675.628" cy="412.044" r="1.215999999999999" fill="none" stroke="#606060" stroke-width="0.8"/>
<rect x="686.3" y="408.7" width="15.0" height="15.199999999999989" fill="#fff" stroke="#606060" stroke-width="0.9"/>
<circle cx="690.5" cy="414.29999999999995" r="2.699999999999997" fill="none" stroke="#4a4a4a" stroke-width="0.9"/>
<circle cx="690.5" cy="420.0999999999999" r="2.699999999999997" fill="none" stroke="#4a4a4a" stroke-width="0.9"/>
<circle cx="697.0999999999999" cy="414.29999999999995" r="2.699999999999997" fill="none" stroke="#4a4a4a" stroke-width="0.9"/>
<circle cx="697.0999999999999" cy="420.0999999999999" r="2.699999999999997" fill="none" stroke="#4a4a4a" stroke-width="0.9"/>
<circle cx="690.1999999999999" cy="409.9" r="0.38" fill="#303030" stroke="#606060" stroke-width="0.1"/>
<circle cx="692.5999999999999" cy="409.9" r="0.38" fill="#303030" stroke="#606060" stroke-width="0.1"/>
<circle cx="695.0" cy="409.9" r="0.38" fill="#303030" stroke="#606060" stroke-width="0.1"/>
<circle cx="697.4" cy="409.9" r="0.38" fill="#303030" stroke="#606060" stroke-width="0.1"/>
<polygon points="633.9,430.2 721.3,430.2 721.3,446 658,446 650.3,452.7 650.3,482.7 633.9,482.7" fill="#fff" stroke="#606060" stroke-width="0.9"/>
<polygon points="645.3,433.4 652.9,441 645.3,448.6 637.6999999999999,441" fill="#fff" stroke="#606060" stroke-width="0.9"/>
<polygon points="645.3,436.288 650.012,441 645.3,445.712 640.588,441" fill="#e4e4e4" stroke="#606060" stroke-width="0.8"/>
<circle cx="645.3" cy="441" r="0.6" fill="#303030" stroke="#606060" stroke-width="0.1"/>
<rect x="658" y="430.2" width="15" height="15.800000000000011" fill="#fff" stroke="#606060" stroke-width="0.9"/>
<circle cx="664.0" cy="439.36400000000003" r="3.5999999999999996" fill="none" stroke="#606060" stroke-width="0.9"/>
<circle cx="668.5" cy="435.25600000000003" r="1.5" fill="none" stroke="#606060" stroke-width="0.8"/>
<circle cx="669.1" cy="441.26000000000005" r="1.5" fill="none" stroke="#606060" stroke-width="0.8"/>
<circle cx="663.7" cy="433.67600000000004" r="1.2" fill="none" stroke="#606060" stroke-width="0.8"/>
<rect x="674" y="430.2" width="15" height="15.800000000000011" fill="#fff" stroke="#606060" stroke-width="0.9"/>
<circle cx="678.2" cy="434.15000000000003" r="2.8500000000000028" fill="none" stroke="#4a4a4a" stroke-width="0.9"/>
<circle cx="678.2" cy="440.25000000000006" r="2.8500000000000028" fill="none" stroke="#4a4a4a" stroke-width="0.9"/>
<circle cx="684.8" cy="434.15000000000003" r="2.8500000000000028" fill="none" stroke="#4a4a4a" stroke-width="0.9"/>
<circle cx="684.8" cy="440.25000000000006" r="2.8500000000000028" fill="none" stroke="#4a4a4a" stroke-width="0.9"/>
<circle cx="677.9" cy="444.8" r="0.38" fill="#303030" stroke="#606060" stroke-width="0.1"/>
<circle cx="680.3" cy="444.8" r="0.38" fill="#303030" stroke="#606060" stroke-width="0.1"/>
<circle cx="682.7" cy="444.8" r="0.38" fill="#303030" stroke="#606060" stroke-width="0.1"/>
<circle cx="685.1" cy="444.8" r="0.38" fill="#303030" stroke="#606060" stroke-width="0.1"/>
<rect x="704.7" y="430.2" width="16.0" height="15.800000000000011" fill="#fff" stroke="#606060" stroke-width="0.9"/>
<circle cx="712.7" cy="438.1" r="1.05" fill="#303030" stroke="#606060" stroke-width="0.2"/>
<polyline points="634,452.7 650.3,452.7" fill="none" stroke="#606060" stroke-width="0.9"/>
<rect x="634.7" y="461" width="15.0" height="15" fill="#fff" stroke="#606060" stroke-width="0.9"/>
<circle cx="642.2" cy="468.5" r="4.65" fill="none" stroke="#303030" stroke-width="1.1"/>
<polyline points="631.3,430 631.3,484.3" fill="none" stroke="#303030" stroke-width="1"/>
<polyline points="633.7,430 633.7,484.3 648,484.3 648,489.3" fill="none" stroke="#303030" stroke-width="1"/>
<rect x="577" y="436.25" width="9.25" height="13.75" rx="1.5" fill="#fff" stroke="#606060" stroke-width="0.9"/>
<rect x="578.6" y="437.85" width="6.0499999999999545" height="10.549999999999955" rx="2" fill="#e9eaeb" stroke="#606060" stroke-width="0.8"/>
<polyline points="578,443.125 581.2,443.125" fill="none" stroke="#303030" stroke-width="1.2"/>
<polyline points="579.2,441.625 579.2,444.625" fill="none" stroke="#606060" stroke-width="0.9"/>
<rect x="602.27" y="431.12" width="12.960000000000036" height="3.400000000000034" fill="#fff" stroke="#606060" stroke-width="0.9"/>
<ellipse cx="608.75" cy="441.6" rx="5.52" ry="7.68" fill="#fff" stroke="#303030" stroke-width="1.0"/>
<ellipse cx="608.75" cy="442.20000000000005" rx="3.4223999999999997" ry="5.2224" fill="#e9eaeb" stroke="#606060" stroke-width="0.7"/>
<circle cx="608.75" cy="438.144" r="0.9" fill="#fff" stroke="#606060" stroke-width="0.6"/>
<rect x="620.5" y="452.5" width="10.0" height="21.25" fill="#fff" stroke="#444" stroke-width="0.9"/>
<rect x="621.7" y="453.3" width="7.599999999999909" height="2.599999999999966" fill="#9c9c9c" stroke="#555" stroke-width="0.5"/>
<rect x="621.7" y="470.35" width="7.599999999999909" height="2.599999999999966" fill="#9c9c9c" stroke="#555" stroke-width="0.5"/>
<rect x="621.9" y="455.9" width="7.2000000000000455" height="14.450000000000045" fill="#fff" stroke="#3c3c3c" stroke-width="1.0"/>
<path d="M577.5,460 L583.8,460 A16.2,16.2 0 0 1 600,476.2 L600,482.5 L577.5,482.5 Z" fill="#fff" stroke="#606060" stroke-width="0.9"/>
<path d="M579.3,461.8 L583.08,461.8 A15.12,15.12 0 0 1 598.2,476.92 L598.2,480.7 L579.3,480.7 Z" fill="#e9eaeb" stroke="#606060" stroke-width="0.8"/>
<circle cx="581.8" cy="478.2" r="1.2" fill="#fff" stroke="#606060" stroke-width="0.8"/>
<polyline points="573.25,484.8 601.7,484.8" fill="none" stroke="#303030" stroke-width="1"/>
<polyline points="619.8,485.1 646.9,485.1 646.9,491.4" fill="none" stroke="#606060" stroke-width="0.9"/>
<polygon points="601.7,484.8 617.3,493.8 616.50,495.19 600.90,486.19" fill="#b5b5b5" stroke="#3a3a3a" stroke-width="0.75"/>
<polyline points="617.3,493.8 619.8,485.1" fill="none" stroke="#606060" stroke-width="0.8"/>
<polygon points="597.6,489.7 585.3,511.9 583.90,511.12 596.20,488.92" fill="#b5b5b5" stroke="#3a3a3a" stroke-width="0.75"/>
<polyline points="585.3,511.9 599.2,515.7" fill="none" stroke="#606060" stroke-width="0.8"/>
<polyline points="597.3,515.7 597.3,541.5" fill="none" stroke="#303030" stroke-width="1"/>
<polyline points="602.2,515.7 602.2,541.5" fill="none" stroke="#303030" stroke-width="1"/>
<polyline points="597.3,515.7 602.2,515.7" fill="none" stroke="#303030" stroke-width="1"/>
<polygon points="645.2,513.5 657.6,494.3 658.94,495.17 646.54,514.37" fill="#b5b5b5" stroke="#3a3a3a" stroke-width="0.75"/>
<polyline points="657.6,494.3 646.9,491.4" fill="none" stroke="#606060" stroke-width="0.8"/>
<polyline points="644.7,513.5 644.7,541.5" fill="none" stroke="#303030" stroke-width="1"/>
<polyline points="647.7,513.5 647.7,541.25" fill="none" stroke="#303030" stroke-width="1"/>
<polyline points="644.7,513.5 647.7,513.5" fill="none" stroke="#303030" stroke-width="1"/>
<rect x="602.2" y="525.9" width="42.5" height="15.100000000000023" fill="#fff" stroke="#444" stroke-width="1"/>
<polyline points="602.2,528.1 644.7,528.1" fill="none" stroke="#666" stroke-width="0.7"/>
<polyline points="604.20,529.5 604.20,539.2" fill="none" stroke="#505050" stroke-width="0.8"/>
<polyline points="606.95,529.5 606.95,539.2" fill="none" stroke="#505050" stroke-width="0.8"/>
<polyline points="609.70,529.5 609.70,539.2" fill="none" stroke="#505050" stroke-width="0.8"/>
<polyline points="612.45,529.5 612.45,539.2" fill="none" stroke="#505050" stroke-width="0.8"/>
<polyline points="615.20,529.5 615.20,539.2" fill="none" stroke="#505050" stroke-width="0.8"/>
<polyline points="617.95,529.5 617.95,539.2" fill="none" stroke="#505050" stroke-width="0.8"/>
<polyline points="620.70,529.5 620.70,539.2" fill="none" stroke="#505050" stroke-width="0.8"/>
<polyline points="623.45,529.5 623.45,539.2" fill="none" stroke="#505050" stroke-width="0.8"/>
<polyline points="626.20,529.5 626.20,539.2" fill="none" stroke="#505050" stroke-width="0.8"/>
<polyline points="628.95,529.5 628.95,539.2" fill="none" stroke="#505050" stroke-width="0.8"/>
<polyline points="631.70,529.5 631.70,539.2" fill="none" stroke="#505050" stroke-width="0.8"/>
<polyline points="634.45,529.5 634.45,539.2" fill="none" stroke="#505050" stroke-width="0.8"/>
<polyline points="637.20,529.5 637.20,539.2" fill="none" stroke="#505050" stroke-width="0.8"/>
<polyline points="639.95,529.5 639.95,539.2" fill="none" stroke="#505050" stroke-width="0.8"/>
<polyline points="642.70,529.5 642.70,539.2" fill="none" stroke="#505050" stroke-width="0.8"/>
<polyline points="758.5,430 758.5,463.5 766.5,463.5 766.5,430" fill="none" stroke="#303030" stroke-width="1"/>
<polyline points="758.5,463.5 758.5,492" fill="none" stroke="#888" stroke-width="0.8"/>
<polyline points="766.5,463.5 766.5,492" fill="none" stroke="#666" stroke-width="0.8"/>
<polyline points="764.9,463.5 764.9,492" fill="none" stroke="#8a8a8a" stroke-width="1"/>
<polyline points="763.3,463.5 763.3,492" fill="none" stroke="#8a8a8a" stroke-width="1"/>
<polygon points="758.5,512.5 752.5,494.5 754.02,493.99 760.02,511.99" fill="#b5b5b5" stroke="#3a3a3a" stroke-width="0.75"/>
<polyline points="752.5,494.5 758.5,492" fill="none" stroke="#606060" stroke-width="0.8"/>
<polyline points="758.5,512.5 766.5,512.5 766.5,537 796,537" fill="none" stroke="#303030" stroke-width="1"/>
<polyline points="758.5,512.5 758.5,541.25" fill="none" stroke="#303030" stroke-width="1"/>
<polyline points="595.6,541.5 758.5,541.5" fill="none" stroke="#303030" stroke-width="1"/>
<polyline points="595.6,547 794.5,547" fill="none" stroke="#303030" stroke-width="1"/>
<polyline points="595.6,541.5 595.6,547" fill="none" stroke="#303030" stroke-width="1"/>
<text x="581.5" y="290.5" font-size="9.6" text-anchor="middle" class="ts">1.67</text>
<text x="656.3" y="312" font-size="9.6" text-anchor="middle" class="ts">15.12</text>
<text x="596.5" y="350.5" font-size="9.6" text-anchor="middle" class="ts">4.87</text>
<text x="604.7" y="388.5" font-size="9.6" text-anchor="middle" class="ts">3.12</text>
<text x="707.3" y="401" font-size="9.6" text-anchor="middle" class="ts">16.49</text>
<text x="781.3" y="417.7" font-size="9.6" text-anchor="middle" class="ts">3.56</text>
<text x="781" y="449.7" font-size="9.6" text-anchor="middle" class="ts">4.35</text>
<text x="738" y="466" font-size="9.6" text-anchor="middle" class="ts">18.30</text>
<text x="607.3" y="461.3" font-size="9.6" text-anchor="middle" class="ts">3.65</text>
<text x="622" y="512" font-size="9.6" text-anchor="middle" class="ts">3.22</text>
<text x="654.7" y="261.3" font-size="12.5" text-anchor="middle" class="tn">1K</text>
<polyline points="632.7,265.3 676.7,265.3" fill="none" stroke="#303030" stroke-width="1"/>
<text x="654.7" y="279.3" font-size="12.7" text-anchor="middle" class="tb">41.27</text>
<polyline points="632.7,284.8 676.7,284.8" fill="none" stroke="#303030" stroke-width="1"/>
<text x="654.7" y="298.0" font-size="12.7" text-anchor="middle" class="tb">43.50</text>
<text x="700" y="473" font-size="12.5" text-anchor="middle" class="tn">C</text>
<polyline points="678,477 722,477" fill="none" stroke="#303030" stroke-width="1"/>
<text x="700" y="491" font-size="12.7" text-anchor="middle" class="tb">25.17</text>
<polyline points="678,496.5 722,496.5" fill="none" stroke="#303030" stroke-width="1"/>
<text x="700" y="509.7" font-size="12.7" text-anchor="middle" class="tb">27.35</text>
<polyline points="328.9,401.3 308.3,401.3 308.3,493.6" fill="none" stroke="#303030" stroke-width="1"/>
<polyline points="328.9,401.3 344.5,401.3 344.5,412.5 314.3,412.5 314.3,458 384.5,458 384.5,412.5 380,412.5 380,401.3 422.5,401.3 422.5,412.5 392.5,412.5 392.5,458 462.5,458 462.5,412.5 458.75,412.5 458.75,401.3 474.5,401.3 474.5,412.5 471,412.5 471,458 512,458 512,412.5 500,412.5 500,401.3 517.5,401.3 517.5,467.8" fill="none" stroke="#303030" stroke-width="1"/>
<rect x="323.25" y="420.5" width="56.25" height="29.5" fill="none" stroke="#606060" stroke-width="0.9"/>
<polyline points="323.25,420.5 379.5,450" fill="none" stroke="#606060" stroke-width="0.8"/>
<polyline points="323.25,450 379.5,420.5" fill="none" stroke="#606060" stroke-width="0.8"/>
<rect x="403.25" y="420.5" width="56.75" height="29.5" fill="none" stroke="#606060" stroke-width="0.9"/>
<polyline points="403.25,420.5 460,450" fill="none" stroke="#606060" stroke-width="0.8"/>
<polyline points="403.25,450 460,420.5" fill="none" stroke="#606060" stroke-width="0.8"/>
<rect x="473.75" y="416.25" width="27.5" height="32.25" fill="none" stroke="#606060" stroke-width="0.9"/>
<polyline points="473.75,416.25 501.25,448.5" fill="none" stroke="#606060" stroke-width="0.8"/>
<polyline points="473.75,448.5 501.25,416.25" fill="none" stroke="#606060" stroke-width="0.8"/>
<rect x="315" y="424.25" width="5" height="25.0" rx="0.8" fill="none" stroke="#606060" stroke-width="0.9"/>
<rect x="395" y="424.25" width="5" height="25.0" rx="0.8" fill="none" stroke="#606060" stroke-width="0.9"/>
<rect x="476.25" y="452.5" width="22.25" height="5.5" rx="0.8" fill="none" stroke="#606060" stroke-width="0.9"/>
<polyline points="334.4,468.3 517.5,468.3" fill="none" stroke="#303030" stroke-width="1"/>
<polyline points="308.3,493.6 334.4,493.6 334.4,468.3" fill="none" stroke="#303030" stroke-width="1"/>
<rect x="314.4" y="469.3" width="15.400000000000034" height="18.599999999999966" fill="none" stroke="#606060" stroke-width="0.9"/>
<rect x="334.4" y="468.6" width="18.900000000000034" height="15.149999999999977" fill="#fff" stroke="#444" stroke-width="1"/>
<polyline points="334.4,470.8 353.3,470.8" fill="none" stroke="#666" stroke-width="0.7"/>
<polyline points="336.40,472.20000000000005 336.40,481.95" fill="none" stroke="#505050" stroke-width="0.8"/>
<polyline points="339.38,472.20000000000005 339.38,481.95" fill="none" stroke="#505050" stroke-width="0.8"/>
<polyline points="342.36,472.20000000000005 342.36,481.95" fill="none" stroke="#505050" stroke-width="0.8"/>
<polyline points="345.34,472.20000000000005 345.34,481.95" fill="none" stroke="#505050" stroke-width="0.8"/>
<polyline points="348.32,472.20000000000005 348.32,481.95" fill="none" stroke="#505050" stroke-width="0.8"/>
<polyline points="351.30,472.20000000000005 351.30,481.95" fill="none" stroke="#505050" stroke-width="0.8"/>
<polygon points="309.8,519.9 297.5,498.5 298.89,497.70 311.19,519.10" fill="#b5b5b5" stroke="#3a3a3a" stroke-width="0.75"/>
<polyline points="297.5,498.5 309.8,494.4" fill="none" stroke="#606060" stroke-width="0.8"/>
<polyline points="309,519.9 309,562 308.75,562" fill="none" stroke="#303030" stroke-width="1"/>
<polyline points="314.4,519.9 314.4,567.5" fill="none" stroke="#303030" stroke-width="1"/>
<polyline points="309,519.9 314.4,519.9" fill="none" stroke="#303030" stroke-width="1"/>
<polyline points="314.4,552.8 323,552.8 323,555.2 314.4,555.2" fill="none" stroke="#606060" stroke-width="0.9"/>
<polyline points="351.7,469 351.7,490.3" fill="none" stroke="#303030" stroke-width="1"/>
<polyline points="353.8,469 353.8,490.3 351.7,490.3" fill="none" stroke="#606060" stroke-width="0.9"/>
<polygon points="351.7,490.3 344.3,503.5 342.90,502.72 350.30,489.52" fill="#b5b5b5" stroke="#3a3a3a" stroke-width="0.75"/>
<polyline points="344.3,503.5 351.7,505.9" fill="none" stroke="#606060" stroke-width="0.8"/>
<polyline points="351.7,505.9 351.7,526.5" fill="none" stroke="#303030" stroke-width="1"/>
<polyline points="353.8,505.9 353.8,526.5" fill="none" stroke="#606060" stroke-width="0.9"/>
<polyline points="351.7,505.9 353.8,505.9" fill="none" stroke="#606060" stroke-width="0.9"/>
<polyline points="347.6,526.5 403.4,526.5" fill="none" stroke="#303030" stroke-width="1"/>
<polyline points="347.6,528.3 408.7,528.3" fill="none" stroke="#303030" stroke-width="1"/>
<polyline points="347.6,526.5 347.6,528.3" fill="none" stroke="#303030" stroke-width="1"/>
<polyline points="403.4,468.3 403.4,526.5" fill="none" stroke="#303030" stroke-width="1"/>
<polyline points="408.7,468.3 408.7,528.3" fill="none" stroke="#303030" stroke-width="1"/>
<rect x="358.75" y="469.2" width="44.35000000000002" height="17.80000000000001" fill="#fff" stroke="#606060" stroke-width="0.9"/>
<path d="M401.3,470.7 L401.3,485.5 L367.95000000000005,485.5 A7.400000000000006,7.400000000000006 0 0 1 367.95000000000005,470.7 Z" fill="#e9eaeb" stroke="#606060" stroke-width="0.9"/>
<polyline points="400.6,472.7 396.1,476.4" fill="none" stroke="#303030" stroke-width="1.3"/>
<rect x="392.8" y="487.9" width="9.800000000000011" height="13.100000000000023" rx="1.5" fill="#fff" stroke="#606060" stroke-width="0.9"/>
<rect x="394.40000000000003" y="489.5" width="6.599999999999966" height="9.899999999999977" rx="2" fill="#e9eaeb" stroke="#606060" stroke-width="0.8"/>
<polyline points="401.6,494.45 398.40000000000003,494.45" fill="none" stroke="#303030" stroke-width="1.2"/>
<polyline points="400.40000000000003,492.95 400.40000000000003,495.95" fill="none" stroke="#606060" stroke-width="0.9"/>
<rect x="397.38" y="501.12" width="3.400000000000034" height="12.960000000000036" fill="#fff" stroke="#606060" stroke-width="0.9"/>
<ellipse cx="390.3" cy="507.6" rx="7.68" ry="5.52" fill="#fff" stroke="#303030" stroke-width="1.0"/>
<ellipse cx="389.7" cy="507.6" rx="5.2224" ry="3.4223999999999997" fill="#e9eaeb" stroke="#606060" stroke-width="0.7"/>
<circle cx="393.75600000000003" cy="507.6" r="0.9" fill="#fff" stroke="#606060" stroke-width="0.6"/>
<rect x="354.4" y="515" width="22.30000000000001" height="11.299999999999955" fill="#fff" stroke="#444" stroke-width="0.9"/>
<rect x="355.2" y="516.2" width="2.599999999999966" height="8.899999999999864" fill="#9c9c9c" stroke="#555" stroke-width="0.5"/>
<rect x="373.3" y="516.2" width="2.599999999999966" height="8.899999999999864" fill="#9c9c9c" stroke="#555" stroke-width="0.5"/>
<rect x="357.79999999999995" y="516.4" width="15.500000000000057" height="8.5" fill="#fff" stroke="#3c3c3c" stroke-width="1.0"/>
<rect x="409.5" y="485" width="9.25" height="13.75" rx="1.5" fill="#fff" stroke="#606060" stroke-width="0.9"/>
<rect x="411.1" y="486.6" width="6.0499999999999545" height="10.549999999999955" rx="2" fill="#e9eaeb" stroke="#606060" stroke-width="0.8"/>
<polyline points="410.5,491.875 413.7,491.875" fill="none" stroke="#303030" stroke-width="1.2"/>
<polyline points="411.7,490.375 411.7,493.375" fill="none" stroke="#606060" stroke-width="0.9"/>
<path d="M409.5,500 L416.3,500 A16.2,16.2 0 0 1 432.5,516.2 L432.5,522.5 L409.5,522.5 Z" fill="#fff" stroke="#606060" stroke-width="0.9"/>
<path d="M411.3,501.8 L415.58,501.8 A15.12,15.12 0 0 1 430.7,516.92 L430.7,520.7 L411.3,520.7 Z" fill="#e9eaeb" stroke="#606060" stroke-width="0.8"/>
<circle cx="413.8" cy="518.2" r="1.2" fill="#fff" stroke="#606060" stroke-width="0.8"/>
<rect x="452.5" y="469.5" width="15.5" height="10.5" fill="#fff" stroke="#606060" stroke-width="0.9"/>
<circle cx="460.25" cy="474.75" r="3.255" fill="none" stroke="#303030" stroke-width="1.1"/>
<rect x="448.52" y="510.08" width="12.960000000000036" height="3.400000000000034" fill="#fff" stroke="#606060" stroke-width="0.9"/>
<ellipse cx="455" cy="503" rx="5.52" ry="7.68" fill="#fff" stroke="#303030" stroke-width="1.0"/>
<ellipse cx="455" cy="502.4" rx="3.4223999999999997" ry="5.2224" fill="#e9eaeb" stroke="#606060" stroke-width="0.7"/>
<circle cx="455" cy="506.456" r="0.9" fill="#fff" stroke="#606060" stroke-width="0.6"/>
<rect x="452" y="514.5" width="17.5" height="10.5" fill="#fff" stroke="#444" stroke-width="0.9"/>
<rect x="452.8" y="515.7" width="2.599999999999966" height="8.099999999999909" fill="#9c9c9c" stroke="#555" stroke-width="0.5"/>
<rect x="466.1" y="515.7" width="2.599999999999966" height="8.099999999999909" fill="#9c9c9c" stroke="#555" stroke-width="0.5"/>
<rect x="455.4" y="515.9" width="10.700000000000045" height="7.7000000000000455" fill="#fff" stroke="#3c3c3c" stroke-width="1.0"/>
<polyline points="408.7,523.75 435,523.75" fill="none" stroke="#606060" stroke-width="0.9"/>
<polyline points="429.25,528.3 429.25,526 435,526 435,528.3" fill="none" stroke="#606060" stroke-width="0.9"/>
<polyline points="435,525.6 472.5,525.6" fill="none" stroke="#303030" stroke-width="2.2"/>
<polyline points="470.5,468.3 470.5,483.75 472.5,483.75 472.5,468.3" fill="none" stroke="#606060" stroke-width="0.9"/>
<polygon points="472.5,483.75 480,496.25 478.63,497.07 471.13,484.57" fill="#b5b5b5" stroke="#3a3a3a" stroke-width="0.75"/>
<polyline points="480,496.25 472,500" fill="none" stroke="#606060" stroke-width="0.8"/>
<polyline points="470.5,500 470.5,525" fill="none" stroke="#303030" stroke-width="1"/>
<polyline points="472.5,500 472.5,526.5" fill="none" stroke="#303030" stroke-width="1"/>
<polyline points="470.5,500 472.5,500" fill="none" stroke="#606060" stroke-width="0.9"/>
<polygon points="518.75,495 529.5,472.5 530.94,473.19 520.19,495.69" fill="#b5b5b5" stroke="#3a3a3a" stroke-width="0.75"/>
<polyline points="529.5,472.5 516.5,468" fill="none" stroke="#606060" stroke-width="0.8"/>
<rect x="496.5" y="496.25" width="15.0" height="30.75" fill="#fff" stroke="#444" stroke-width="1"/>
<polyline points="498.7,496.25 498.7,527" fill="none" stroke="#666" stroke-width="0.7"/>
<polyline points="500.1,498.25 509.7,498.25" fill="none" stroke="#505050" stroke-width="0.8"/>
<polyline points="500.1,501.22 509.7,501.22" fill="none" stroke="#505050" stroke-width="0.8"/>
<polyline points="500.1,504.19 509.7,504.19" fill="none" stroke="#505050" stroke-width="0.8"/>
<polyline points="500.1,507.17 509.7,507.17" fill="none" stroke="#505050" stroke-width="0.8"/>
<polyline points="500.1,510.14 509.7,510.14" fill="none" stroke="#505050" stroke-width="0.8"/>
<polyline points="500.1,513.11 509.7,513.11" fill="none" stroke="#505050" stroke-width="0.8"/>
<polyline points="500.1,516.08 509.7,516.08" fill="none" stroke="#505050" stroke-width="0.8"/>
<polyline points="500.1,519.06 509.7,519.06" fill="none" stroke="#505050" stroke-width="0.8"/>
<polyline points="500.1,522.03 509.7,522.03" fill="none" stroke="#505050" stroke-width="0.8"/>
<polyline points="500.1,525.00 509.7,525.00" fill="none" stroke="#505050" stroke-width="0.8"/>
<polyline points="512,495 512,527" fill="none" stroke="#303030" stroke-width="1"/>
<polyline points="518,495 518,541" fill="none" stroke="#303030" stroke-width="1"/>
<polyline points="512,495 518,495" fill="none" stroke="#303030" stroke-width="1"/>
<polygon points="497.3,527 475.7,538.7 474.94,537.29 496.54,525.59" fill="#b5b5b5" stroke="#3a3a3a" stroke-width="0.75"/>
<polyline points="475.7,538.7 473.3,526" fill="none" stroke="#606060" stroke-width="0.8"/>
<polyline points="373.75,528.3 373.75,545 414.25,545" fill="none" stroke="#606060" stroke-width="0.9"/>
<rect x="374.5" y="529.3" width="15.0" height="14.450000000000045" fill="#fff" stroke="#606060" stroke-width="0.9"/>
<circle cx="382.0" cy="536.525" r="4.479500000000014" fill="none" stroke="#303030" stroke-width="1.1"/>
<rect x="391.25" y="530.5" width="16.25" height="12.5" fill="#fff" stroke="#606060" stroke-width="0.9"/>
<rect x="392.45" y="531.7" width="13.850000000000023" height="10.099999999999909" fill="#dcdcdc" stroke="#888" stroke-width="0.7"/>
<rect x="393.45" y="532.9" width="7.225000000000023" height="7.7000000000000455" fill="#f4f4f4" stroke="#555" stroke-width="0.8"/>
<polyline points="414.25,528.3 414.25,606.25" fill="none" stroke="#606060" stroke-width="0.9"/>
<rect x="414.25" y="546.2" width="15.0" height="14.0" fill="#fff" stroke="#606060" stroke-width="0.9"/>
<circle cx="420.25" cy="554.32" r="3.36" fill="none" stroke="#606060" stroke-width="0.9"/>
<circle cx="424.75" cy="550.6800000000001" r="1.4000000000000001" fill="none" stroke="#606060" stroke-width="0.8"/>
<circle cx="425.35" cy="556.0" r="1.4000000000000001" fill="none" stroke="#606060" stroke-width="0.8"/>
<circle cx="419.95" cy="549.2800000000001" r="1.12" fill="none" stroke="#606060" stroke-width="0.8"/>
<rect x="414.25" y="561" width="15.0" height="14" fill="#fff" stroke="#606060" stroke-width="0.9"/>
<circle cx="419.79999999999995" cy="564.95" r="2.65" fill="none" stroke="#4a4a4a" stroke-width="0.9"/>
<circle cx="419.79999999999995" cy="571.05" r="2.65" fill="none" stroke="#4a4a4a" stroke-width="0.9"/>
<circle cx="425.5" cy="564.95" r="2.65" fill="none" stroke="#4a4a4a" stroke-width="0.9"/>
<circle cx="425.5" cy="571.05" r="2.65" fill="none" stroke="#4a4a4a" stroke-width="0.9"/>
<circle cx="415.45" cy="564.64" r="0.38" fill="#303030" stroke="#606060" stroke-width="0.1"/>
<circle cx="415.45" cy="566.88" r="0.38" fill="#303030" stroke="#606060" stroke-width="0.1"/>
<circle cx="415.45" cy="569.12" r="0.38" fill="#303030" stroke="#606060" stroke-width="0.1"/>
<circle cx="415.45" cy="571.36" r="0.38" fill="#303030" stroke="#606060" stroke-width="0.1"/>
<rect x="414.25" y="591.25" width="15.0" height="15.0" fill="#fff" stroke="#606060" stroke-width="0.9"/>
<circle cx="421.75" cy="598.75" r="1.05" fill="#303030" stroke="#606060" stroke-width="0.2"/>
<polyline points="450,528.3 450,606.25" fill="none" stroke="#606060" stroke-width="0.9"/>
<polyline points="450,545 472.5,545 472.5,526.5" fill="none" stroke="#606060" stroke-width="0.9"/>
<rect x="456.25" y="530.3" width="15.0" height="13.450000000000045" fill="#fff" stroke="#606060" stroke-width="0.9"/>
<rect x="457.45" y="531.5" width="12.600000000000023" height="11.049999999999955" fill="#dcdcdc" stroke="#888" stroke-width="0.7"/>
<rect x="458.45" y="532.6999999999999" width="6.5" height="8.650000000000091" fill="#f4f4f4" stroke="#555" stroke-width="0.8"/>
<rect x="435.2" y="546.2" width="14.800000000000011" height="14.0" fill="#fff" stroke="#606060" stroke-width="0.9"/>
<circle cx="441.12" cy="554.32" r="3.36" fill="none" stroke="#606060" stroke-width="0.9"/>
<circle cx="445.56" cy="550.6800000000001" r="1.4000000000000001" fill="none" stroke="#606060" stroke-width="0.8"/>
<circle cx="446.15200000000004" cy="556.0" r="1.4000000000000001" fill="none" stroke="#606060" stroke-width="0.8"/>
<circle cx="440.824" cy="549.2800000000001" r="1.12" fill="none" stroke="#606060" stroke-width="0.8"/>
<rect x="435.2" y="561" width="14.800000000000011" height="14" fill="#fff" stroke="#606060" stroke-width="0.9"/>
<circle cx="440.7" cy="564.95" r="2.6000000000000028" fill="none" stroke="#4a4a4a" stroke-width="0.9"/>
<circle cx="440.7" cy="571.05" r="2.6000000000000028" fill="none" stroke="#4a4a4a" stroke-width="0.9"/>
<circle cx="446.3" cy="564.95" r="2.6000000000000028" fill="none" stroke="#4a4a4a" stroke-width="0.9"/>
<circle cx="446.3" cy="571.05" r="2.6000000000000028" fill="none" stroke="#4a4a4a" stroke-width="0.9"/>
<circle cx="436.4" cy="564.64" r="0.38" fill="#303030" stroke="#606060" stroke-width="0.1"/>
<circle cx="436.4" cy="566.88" r="0.38" fill="#303030" stroke="#606060" stroke-width="0.1"/>
<circle cx="436.4" cy="569.12" r="0.38" fill="#303030" stroke="#606060" stroke-width="0.1"/>
<circle cx="436.4" cy="571.36" r="0.38" fill="#303030" stroke="#606060" stroke-width="0.1"/>
<rect x="435.2" y="591.25" width="14.800000000000011" height="15.0" fill="#fff" stroke="#606060" stroke-width="0.9"/>
<circle cx="442.6" cy="598.75" r="1.05" fill="#303030" stroke="#606060" stroke-width="0.2"/>
<polygon points="347.9,527.3 359.9,548.7 358.50,549.48 346.50,528.08" fill="#b5b5b5" stroke="#3a3a3a" stroke-width="0.75"/>
<polyline points="359.9,548.7 347.3,553.6" fill="none" stroke="#606060" stroke-width="0.8"/>
<polygon points="347.9,552 327,564.3 326.19,562.92 347.09,550.62" fill="#b5b5b5" stroke="#3a3a3a" stroke-width="0.75"/>
<polyline points="327,564.3 323.5,555" fill="none" stroke="#606060" stroke-width="0.8"/>
<text x="378" y="498.4" font-size="9.6" text-anchor="middle" class="ts">3.59</text>
<text x="431" y="491" font-size="9.6" text-anchor="middle" class="ts">4.21</text>
<text x="499.5" y="492.3" font-size="9.6" text-anchor="middle" class="ts">3.38</text>
<polyline points="347,552.5 347,583.75 345,583.75 345,648 326.25,648" fill="none" stroke="#303030" stroke-width="1"/>
<polyline points="349,552.5 349,583.75 350,583.75 350,678" fill="none" stroke="#303030" stroke-width="1"/>
<polyline points="273.25,659.25 326.25,659.25" fill="none" stroke="#888" stroke-width="0.8"/>
<polyline points="273.25,648 326.25,648" fill="none" stroke="#666" stroke-width="0.8"/>
<polyline points="273.25,650.25 326.25,650.25" fill="none" stroke="#8a8a8a" stroke-width="1"/>
<polyline points="273.25,652.5 326.25,652.5" fill="none" stroke="#8a8a8a" stroke-width="1"/>
<polyline points="326.25,648 326.25,658.75 337,658.75 337,723.25" fill="none" stroke="#303030" stroke-width="1"/>
<polyline points="273.25,659.25 326.25,659.25" fill="none" stroke="#666" stroke-width="0.8"/>
<polyline points="337,723.25 369.5,723.25 369.5,710.75 350,710.75 350,686.25" fill="none" stroke="#303030" stroke-width="1"/>
<polyline points="369.5,723.25 422.5,723.25" fill="none" stroke="#888" stroke-width="0.8"/>
<polyline points="369.5,710.75 422.5,710.75" fill="none" stroke="#666" stroke-width="0.8"/>
<polyline points="369.5,713.25 422.5,713.25" fill="none" stroke="#8a8a8a" stroke-width="1"/>
<polyline points="369.5,715.75 422.5,715.75" fill="none" stroke="#8a8a8a" stroke-width="1"/>
<polyline points="422.5,710.75 422.5,723.25 458.75,723.25 458.75,710.75" fill="none" stroke="#303030" stroke-width="1"/>
<polyline points="422.5,710.75 429.25,710.75" fill="none" stroke="#303030" stroke-width="1"/>
<polyline points="435,710.75 458.75,710.75" fill="none" stroke="#303030" stroke-width="1"/>
<polyline points="458.75,723.25 507.5,723.25" fill="none" stroke="#888" stroke-width="0.8"/>
<polyline points="458.75,710.75 507.5,710.75" fill="none" stroke="#666" stroke-width="0.8"/>
<polyline points="458.75,713.25 507.5,713.25" fill="none" stroke="#8a8a8a" stroke-width="1"/>
<polyline points="458.75,715.75 507.5,715.75" fill="none" stroke="#8a8a8a" stroke-width="1"/>
<polyline points="507.5,710.75 507.5,723.25 542,723.25 542,710.75" fill="none" stroke="#303030" stroke-width="1"/>
<polyline points="507.5,710.75 511.5,710.75" fill="none" stroke="#303030" stroke-width="1"/>
<polyline points="518,710.75 542,710.75" fill="none" stroke="#303030" stroke-width="1"/>
<polyline points="542,723.25 588.75,723.25" fill="none" stroke="#888" stroke-width="0.8"/>
<polyline points="542,710.75 588.75,710.75" fill="none" stroke="#666" stroke-width="0.8"/>
<polyline points="542,713.25 588.75,713.25" fill="none" stroke="#8a8a8a" stroke-width="1"/>
<polyline points="542,715.75 588.75,715.75" fill="none" stroke="#8a8a8a" stroke-width="1"/>
<polyline points="588.75,710.75 588.75,723.25 638.75,723.25 638.75,710.75" fill="none" stroke="#303030" stroke-width="1"/>
<polyline points="588.75,710.75 626.25,710.75" fill="none" stroke="#303030" stroke-width="1"/>
<polyline points="632.5,710.75 638.75,710.75" fill="none" stroke="#303030" stroke-width="1"/>
<polyline points="638.75,723.25 685,723.25" fill="none" stroke="#888" stroke-width="0.8"/>
<polyline points="638.75,710.75 685,710.75" fill="none" stroke="#666" stroke-width="0.8"/>
<polyline points="638.75,713.25 685,713.25" fill="none" stroke="#8a8a8a" stroke-width="1"/>
<polyline points="638.75,715.75 685,715.75" fill="none" stroke="#8a8a8a" stroke-width="1"/>
<polyline points="685,710.75 685,723.25 719,723.25 719,710.75" fill="none" stroke="#303030" stroke-width="1"/>
<polyline points="685,710.75 702.75,710.75" fill="none" stroke="#303030" stroke-width="1"/>
<polyline points="712.25,710.75 719,710.75" fill="none" stroke="#303030" stroke-width="1"/>
<polyline points="719,723.25 775.25,723.25" fill="none" stroke="#888" stroke-width="0.8"/>
<polyline points="719,710.75 775.25,710.75" fill="none" stroke="#666" stroke-width="0.8"/>
<polyline points="719,713.25 775.25,713.25" fill="none" stroke="#8a8a8a" stroke-width="1"/>
<polyline points="719,715.75 775.25,715.75" fill="none" stroke="#8a8a8a" stroke-width="1"/>
<polyline points="775.25,710.75 775.25,723.25 807,723.25" fill="none" stroke="#303030" stroke-width="1"/>
<polyline points="775.25,710.75 794.5,710.75 794.5,686.25" fill="none" stroke="#303030" stroke-width="1"/>
<polyline points="350,678 382.5,678 382.5,686.25 350,686.25" fill="none" stroke="#303030" stroke-width="1"/>
<polyline points="382.5,678 403.75,678" fill="none" stroke="#888" stroke-width="0.8"/>
<polyline points="382.5,686.25 403.75,686.25" fill="none" stroke="#666" stroke-width="0.8"/>
<polyline points="382.5,685.26 403.75,685.26" fill="none" stroke="#8a8a8a" stroke-width="1"/>
<polyline points="382.5,683.61 403.75,683.61" fill="none" stroke="#8a8a8a" stroke-width="1"/>
<polygon points="422.5,684.5 406.25,672.5 407.20,671.21 423.45,683.21" fill="#b5b5b5" stroke="#3a3a3a" stroke-width="0.75"/>
<polyline points="406.25,672.5 403.75,678" fill="none" stroke="#606060" stroke-width="0.8"/>
<polyline points="403.75,678 403.75,686.25" fill="none" stroke="#606060" stroke-width="0.9"/>
<polyline points="422.5,678 429.25,678" fill="none" stroke="#303030" stroke-width="1"/>
<polyline points="422.5,678 422.5,686.25 429.25,686.25" fill="none" stroke="#303030" stroke-width="1"/>
<polyline points="429.25,528.3 429.25,710.75" fill="none" stroke="#303030" stroke-width="1"/>
<polyline points="435,528.3 435,710.75" fill="none" stroke="#303030" stroke-width="1"/>
<polyline points="435,678 466.25,678 466.25,686.25 435,686.25" fill="none" stroke="#303030" stroke-width="1"/>
<polyline points="466.25,678 486.25,678" fill="none" stroke="#888" stroke-width="0.8"/>
<polyline points="466.25,686.25 486.25,686.25" fill="none" stroke="#666" stroke-width="0.8"/>
<polyline points="466.25,685.26 486.25,685.26" fill="none" stroke="#8a8a8a" stroke-width="1"/>
<polyline points="466.25,683.61 486.25,683.61" fill="none" stroke="#8a8a8a" stroke-width="1"/>
<polygon points="506.25,684.5 487.5,672.5 488.36,671.15 507.11,683.15" fill="#b5b5b5" stroke="#3a3a3a" stroke-width="0.75"/>
<polyline points="487.5,672.5 486.25,678" fill="none" stroke="#606060" stroke-width="0.8"/>
<polyline points="486.25,678 486.25,686.25" fill="none" stroke="#606060" stroke-width="0.9"/>
<polyline points="506.25,678 511.5,678" fill="none" stroke="#303030" stroke-width="1"/>
<polyline points="506.25,678 506.25,686.25 511.5,686.25" fill="none" stroke="#303030" stroke-width="1"/>
<polyline points="511.5,527 511.5,710.75" fill="none" stroke="#303030" stroke-width="1"/>
<polyline points="518,541 518,710.75" fill="none" stroke="#303030" stroke-width="1"/>
<polyline points="518,540.7 569.6,540.7" fill="none" stroke="#303030" stroke-width="1"/>
<polyline points="520,547 566.25,547 566.25,561.25 569.6,561.25 569.6,542.3" fill="none" stroke="#606060" stroke-width="0.9"/>
<polyline points="520,547 520,609.5" fill="none" stroke="#606060" stroke-width="0.9"/>
<polygon points="568.75,577.5 576.25,563.75 577.65,564.52 570.15,578.27" fill="#b5b5b5" stroke="#3a3a3a" stroke-width="0.75"/>
<polyline points="576.25,563.75 569.6,561.25" fill="none" stroke="#606060" stroke-width="0.8"/>
<polyline points="566.25,577.5 566.25,609.5 518,609.5" fill="none" stroke="#303030" stroke-width="1"/>
<polyline points="569.6,577.5 569.6,606.25 575,606.25" fill="none" stroke="#303030" stroke-width="1"/>
<polyline points="566.25,577.5 569.6,577.5" fill="none" stroke="#303030" stroke-width="1"/>
<polyline points="518,611.5 568.75,611.5" fill="none" stroke="#606060" stroke-width="0.9"/>
<polyline points="568.75,606.25 568.75,611.5" fill="none" stroke="#606060" stroke-width="0.9"/>
<rect x="540.5" y="547.5" width="15.75" height="14.5" fill="#fff" stroke="#606060" stroke-width="0.9"/>
<circle cx="548.375" cy="554.75" r="4.495" fill="none" stroke="#303030" stroke-width="1.1"/>
<rect x="520.7" y="558.75" width="10.549999999999955" height="13.25" rx="1.5" fill="#fff" stroke="#606060" stroke-width="0.9"/>
<rect x="522.3000000000001" y="560.35" width="7.349999999999909" height="10.049999999999955" rx="2" fill="#e9eaeb" stroke="#606060" stroke-width="0.8"/>
<polyline points="521.7,565.375 524.9000000000001,565.375" fill="none" stroke="#303030" stroke-width="1.2"/>
<polyline points="522.9000000000001,563.875 522.9000000000001,566.875" fill="none" stroke="#606060" stroke-width="0.9"/>
<rect x="520.75" y="580" width="45.25" height="20" fill="#fff" stroke="#606060" stroke-width="0.9"/>
<path d="M522.55,581.5 L522.55,598.5 L555.7,598.5 A8.5,8.5 0 0 0 555.7,581.5 Z" fill="#e9eaeb" stroke="#606060" stroke-width="0.9"/>
<polyline points="523.25,585.5 527.75,588.2" fill="none" stroke="#303030" stroke-width="1.3"/>
<rect x="545.5" y="598" width="20.25" height="11.299999999999955" fill="#fff" stroke="#444" stroke-width="0.9"/>
<rect x="546.3" y="599.2" width="2.6000000000000227" height="8.899999999999864" fill="#9c9c9c" stroke="#555" stroke-width="0.5"/>
<rect x="562.35" y="599.2" width="2.6000000000000227" height="8.899999999999864" fill="#9c9c9c" stroke="#555" stroke-width="0.5"/>
<rect x="548.9" y="599.4" width="13.450000000000045" height="8.5" fill="#fff" stroke="#3c3c3c" stroke-width="1.0"/>
<polygon points="518.2,611.75 568.75,611.75 568.75,627 541.25,627 533.75,633.75 533.75,673.75 518.2,673.75" fill="#fff" stroke="#606060" stroke-width="0.9"/>
<polygon points="530,614.1999999999999 538.6,622.8 530,631.4 521.4,622.8" fill="#fff" stroke="#606060" stroke-width="0.9"/>
<polygon points="530,617.468 535.332,622.8 530,628.132 524.668,622.8" fill="#e4e4e4" stroke="#606060" stroke-width="0.8"/>
<circle cx="530" cy="622.8" r="0.6" fill="#303030" stroke="#606060" stroke-width="0.1"/>
<polyline points="541.25,611.75 541.25,627" fill="none" stroke="#606060" stroke-width="0.9"/>
<rect x="553.75" y="612.3" width="15.0" height="14.600000000000023" fill="#fff" stroke="#606060" stroke-width="0.9"/>
<circle cx="561.25" cy="619.5999999999999" r="1.05" fill="#303030" stroke="#606060" stroke-width="0.2"/>
<rect x="519" y="636.25" width="14.5" height="13.75" fill="#fff" stroke="#606060" stroke-width="0.9"/>
<circle cx="524.8" cy="644.225" r="3.3" fill="none" stroke="#606060" stroke-width="0.9"/>
<circle cx="529.15" cy="640.65" r="1.375" fill="none" stroke="#606060" stroke-width="0.8"/>
<circle cx="529.73" cy="645.875" r="1.375" fill="none" stroke="#606060" stroke-width="0.8"/>
<circle cx="524.51" cy="639.275" r="1.1" fill="none" stroke="#606060" stroke-width="0.8"/>
<rect x="519" y="658.75" width="14.5" height="14.25" fill="#fff" stroke="#606060" stroke-width="0.9"/>
<circle cx="522.625" cy="662.7625" r="2.525" fill="none" stroke="#4a4a4a" stroke-width="0.9"/>
<circle cx="522.625" cy="668.9875" r="2.525" fill="none" stroke="#4a4a4a" stroke-width="0.9"/>
<circle cx="528.075" cy="662.7625" r="2.525" fill="none" stroke="#4a4a4a" stroke-width="0.9"/>
<circle cx="528.075" cy="668.9875" r="2.525" fill="none" stroke="#4a4a4a" stroke-width="0.9"/>
<circle cx="532.3" cy="662.455" r="0.38" fill="#303030" stroke="#606060" stroke-width="0.1"/>
<circle cx="532.3" cy="664.735" r="0.38" fill="#303030" stroke="#606060" stroke-width="0.1"/>
<circle cx="532.3" cy="667.015" r="0.38" fill="#303030" stroke="#606060" stroke-width="0.1"/>
<circle cx="532.3" cy="669.295" r="0.38" fill="#303030" stroke="#606060" stroke-width="0.1"/>
<polyline points="518.2,655 533.75,655" fill="none" stroke="#606060" stroke-width="0.9"/>
<polygon points="595.1,541.5 573.75,529.2 574.55,527.81 595.90,540.11" fill="#b5b5b5" stroke="#3a3a3a" stroke-width="0.75"/>
<polyline points="573.75,529.2 569.6,542.3" fill="none" stroke="#606060" stroke-width="0.8"/>
<polygon points="597.5,607 578.75,617.5 577.97,616.10 596.72,605.60" fill="#b5b5b5" stroke="#3a3a3a" stroke-width="0.75"/>
<polyline points="578.75,617.5 575,606.25" fill="none" stroke="#606060" stroke-width="0.8"/>
<polyline points="597.5,605.5 626.25,605.5" fill="none" stroke="#303030" stroke-width="1"/>
<polyline points="597.5,607.5 626.25,607.5" fill="none" stroke="#606060" stroke-width="0.8"/>
<polyline points="626.25,710.75 626.25,604.5 632.5,604.5 632.5,710.75" fill="none" stroke="#303030" stroke-width="1"/>
<polygon points="632.5,605.5 651.5,617.5 650.65,618.85 631.65,606.85" fill="#b5b5b5" stroke="#3a3a3a" stroke-width="0.75"/>
<polyline points="651.5,617.5 655.25,606.25" fill="none" stroke="#606060" stroke-width="0.8"/>
<polyline points="655.25,606.25 702.75,606.25" fill="none" stroke="#303030" stroke-width="1"/>
<polyline points="655.25,608 702.75,608" fill="none" stroke="#606060" stroke-width="0.8"/>
<polyline points="702.75,710.75 702.75,602.5 708.5,602.5 708.5,677.5 718.5,677.5 718.5,685 712.25,686.25 712.25,710.75" fill="none" stroke="#303030" stroke-width="1"/>
<polygon points="706.5,579.5 718.5,598.75 717.14,599.60 705.14,580.35" fill="#b5b5b5" stroke="#3a3a3a" stroke-width="0.75"/>
<polyline points="718.5,598.75 704.5,602.3" fill="none" stroke="#606060" stroke-width="0.8"/>
<rect x="611.5" y="547.2" width="58.39999999999998" height="31.199999999999932" fill="none" stroke="#303030" stroke-width="1"/>
<polyline points="613.7,549.3 667.8,549.3 667.8,576.3" fill="none" stroke="#606060" stroke-width="0.8"/>
<polyline points="613.7,549.3 613.7,576.3 648.5,576.3" fill="none" stroke="#606060" stroke-width="0.8"/>
<rect x="614" y="557" width="10.700000000000045" height="18.5" fill="#fff" stroke="#444" stroke-width="0.9"/>
<rect x="615.2" y="557.8" width="8.299999999999955" height="2.6000000000000227" fill="#9c9c9c" stroke="#555" stroke-width="0.5"/>
<rect x="615.2" y="572.1" width="8.299999999999955" height="2.6000000000000227" fill="#9c9c9c" stroke="#555" stroke-width="0.5"/>
<rect x="615.4" y="560.4" width="7.900000000000091" height="11.700000000000045" fill="#fff" stroke="#3c3c3c" stroke-width="1.0"/>
<rect x="624.52" y="559.3199999999999" width="3.3999999999999773" height="12.960000000000036" fill="#fff" stroke="#606060" stroke-width="0.9"/>
<ellipse cx="635" cy="565.8" rx="7.68" ry="5.52" fill="#fff" stroke="#303030" stroke-width="1.0"/>
<ellipse cx="635.6" cy="565.8" rx="5.2224" ry="3.4223999999999997" fill="#e9eaeb" stroke="#606060" stroke-width="0.7"/>
<circle cx="631.544" cy="565.8" r="0.9" fill="#fff" stroke="#606060" stroke-width="0.6"/>
<rect x="650.2" y="550.5" width="15.599999999999909" height="9.200000000000045" rx="1.5" fill="#fff" stroke="#606060" stroke-width="0.9"/>
<rect x="651.8000000000001" y="552.1" width="12.399999999999864" height="6.0" rx="2" fill="#e9eaeb" stroke="#606060" stroke-width="0.8"/>
<polyline points="658.0,551.5 658.0,554.7" fill="none" stroke="#303030" stroke-width="1.2"/>
<polyline points="656.5,552.7 659.5,552.7" fill="none" stroke="#606060" stroke-width="0.9"/>
<polyline points="648.5,578.4 664.1,578.4" fill="none" stroke="#fff" stroke-width="2"/>
<polygon points="664.1,577.6 650.2,585.2 649.43,583.80 663.33,576.20" fill="#b5b5b5" stroke="#3a3a3a" stroke-width="0.75"/>
<polyline points="650.2,585.2 648.5,577" fill="none" stroke="#606060" stroke-width="0.8"/>
<polyline points="671.5,547 671.5,577" fill="none" stroke="#303030" stroke-width="1"/>
<polyline points="702.75,547 702.75,578.75" fill="none" stroke="#303030" stroke-width="1"/>
<rect x="672" y="548.5" width="29.5" height="12.75" fill="#fff" stroke="#444" stroke-width="1"/>
<polyline points="672,550.7 701.5,550.7" fill="none" stroke="#666" stroke-width="0.7"/>
<polyline points="674.00,552.1 674.00,559.45" fill="none" stroke="#505050" stroke-width="0.8"/>
<polyline points="676.83,552.1 676.83,559.45" fill="none" stroke="#505050" stroke-width="0.8"/>
<polyline points="679.67,552.1 679.67,559.45" fill="none" stroke="#505050" stroke-width="0.8"/>
<polyline points="682.50,552.1 682.50,559.45" fill="none" stroke="#505050" stroke-width="0.8"/>
<polyline points="685.33,552.1 685.33,559.45" fill="none" stroke="#505050" stroke-width="0.8"/>
<polyline points="688.17,552.1 688.17,559.45" fill="none" stroke="#505050" stroke-width="0.8"/>
<polyline points="691.00,552.1 691.00,559.45" fill="none" stroke="#505050" stroke-width="0.8"/>
<polyline points="693.83,552.1 693.83,559.45" fill="none" stroke="#505050" stroke-width="0.8"/>
<polyline points="696.67,552.1 696.67,559.45" fill="none" stroke="#505050" stroke-width="0.8"/>
<polyline points="699.50,552.1 699.50,559.45" fill="none" stroke="#505050" stroke-width="0.8"/>
<polygon points="689,576.25 674,585 673.19,583.62 688.19,574.87" fill="#b5b5b5" stroke="#3a3a3a" stroke-width="0.75"/>
<polyline points="674,585 671.5,577" fill="none" stroke="#606060" stroke-width="0.8"/>
<polyline points="689,576.25 702.75,576.25" fill="none" stroke="#303030" stroke-width="1"/>
<polyline points="689,578.4 702.75,578.4" fill="none" stroke="#606060" stroke-width="0.8"/>
<polyline points="669.9,577 671.5,577" fill="none" stroke="#303030" stroke-width="1"/>
<polygon points="718.5,682.5 735.25,672.5 736.07,673.87 719.32,683.87" fill="#b5b5b5" stroke="#3a3a3a" stroke-width="0.75"/>
<polyline points="735.25,672.5 738,685" fill="none" stroke="#606060" stroke-width="0.8"/>
<polyline points="737.75,677.5 762.75,677.5" fill="none" stroke="#888" stroke-width="0.8"/>
<polyline points="737.75,686.25 762.75,686.25" fill="none" stroke="#666" stroke-width="0.8"/>
<polyline points="737.75,685.2 762.75,685.2" fill="none" stroke="#8a8a8a" stroke-width="1"/>
<polyline points="737.75,683.45 762.75,683.45" fill="none" stroke="#8a8a8a" stroke-width="1"/>
<polyline points="737.75,677.5 737.75,686.25" fill="none" stroke="#606060" stroke-width="0.9"/>
<polyline points="794.5,677.5 762.75,677.5 762.75,686.25 794.5,686.25" fill="none" stroke="#303030" stroke-width="1"/>
<polyline points="712.25,686.25 737.75,686.25" fill="none" stroke="#606060" stroke-width="0.8"/>
<polyline points="794.5,602 794.5,677.5" fill="none" stroke="#303030" stroke-width="1"/>
<text x="329.0" y="526.2" font-size="9.6" text-anchor="middle" class="ts">3.41</text>
<text x="309.7" y="579.5" font-size="9.6" text-anchor="middle" class="ts">10.00</text>
<text x="371.3" y="601.9" font-size="9.6" text-anchor="middle" class="ts">16.56</text>
<text x="470.7" y="567.9" font-size="9.6" text-anchor="middle" class="ts">16.10</text>
<text x="549.7" y="575.7" font-size="9.6" text-anchor="middle" class="ts">3.67</text>
<text x="404.0" y="706.9" font-size="9.6" text-anchor="middle" class="ts">2.81</text>
<text x="479.0" y="701.5" font-size="9.6" text-anchor="middle" class="ts">2.59</text>
<text x="550.7" y="699.5" font-size="9.6" text-anchor="middle" class="ts">15.53</text>
<text x="609.7" y="594.5" font-size="9.6" text-anchor="middle" class="ts">6.81</text>
<text x="653.7" y="572.7" font-size="9.6" text-anchor="middle" class="ts">1.67</text>
<text x="684.7" y="572.7" font-size="9.6" text-anchor="middle" class="ts">1.32</text>
<text x="731.3" y="580.9" font-size="9.6" text-anchor="middle" class="ts">15.76</text>
<text x="657.0" y="669.5" font-size="9.6" text-anchor="middle" class="ts">10.13</text>
<text x="752.3" y="706.9" font-size="9.6" text-anchor="middle" class="ts">2.91</text>
<text x="306.5" y="597" font-size="12.5" text-anchor="middle" class="tn">1K</text>
<polyline points="284.5,601 328.5,601" fill="none" stroke="#303030" stroke-width="1"/>
<text x="306.5" y="615" font-size="12.7" text-anchor="middle" class="tb">33.56</text>
<polyline points="284.5,620.5 328.5,620.5" fill="none" stroke="#303030" stroke-width="1"/>
<text x="306.5" y="633.7" font-size="12.7" text-anchor="middle" class="tb">34.97</text>
<text x="478.5" y="606.7" font-size="12.5" text-anchor="middle" class="tn">C</text>
<polyline points="456.5,610.7 500.5,610.7" fill="none" stroke="#303030" stroke-width="1"/>
<text x="478.5" y="624.7" font-size="12.7" text-anchor="middle" class="tb">23.69</text>
<polyline points="456.5,630.2 500.5,630.2" fill="none" stroke="#303030" stroke-width="1"/>
<text x="478.5" y="643.4000000000001" font-size="12.7" text-anchor="middle" class="tb">24.99</text>
<text x="752.5" y="598.7" font-size="12.5" text-anchor="middle" class="tn">2K</text>
<polyline points="730.5,602.7 774.5,602.7" fill="none" stroke="#303030" stroke-width="1"/>
<text x="752.5" y="616.7" font-size="12.7" text-anchor="middle" class="tb">54.89</text>
<polyline points="730.5,622.2 774.5,622.2" fill="none" stroke="#303030" stroke-width="1"/>
<text x="752.5" y="635.4000000000001" font-size="12.7" text-anchor="middle" class="tb">56.35</text>
<polyline points="708.5,547 708.5,578.75 704.5,578.75" fill="none" stroke="#303030" stroke-width="1"/>
</svg>
</body></html>
